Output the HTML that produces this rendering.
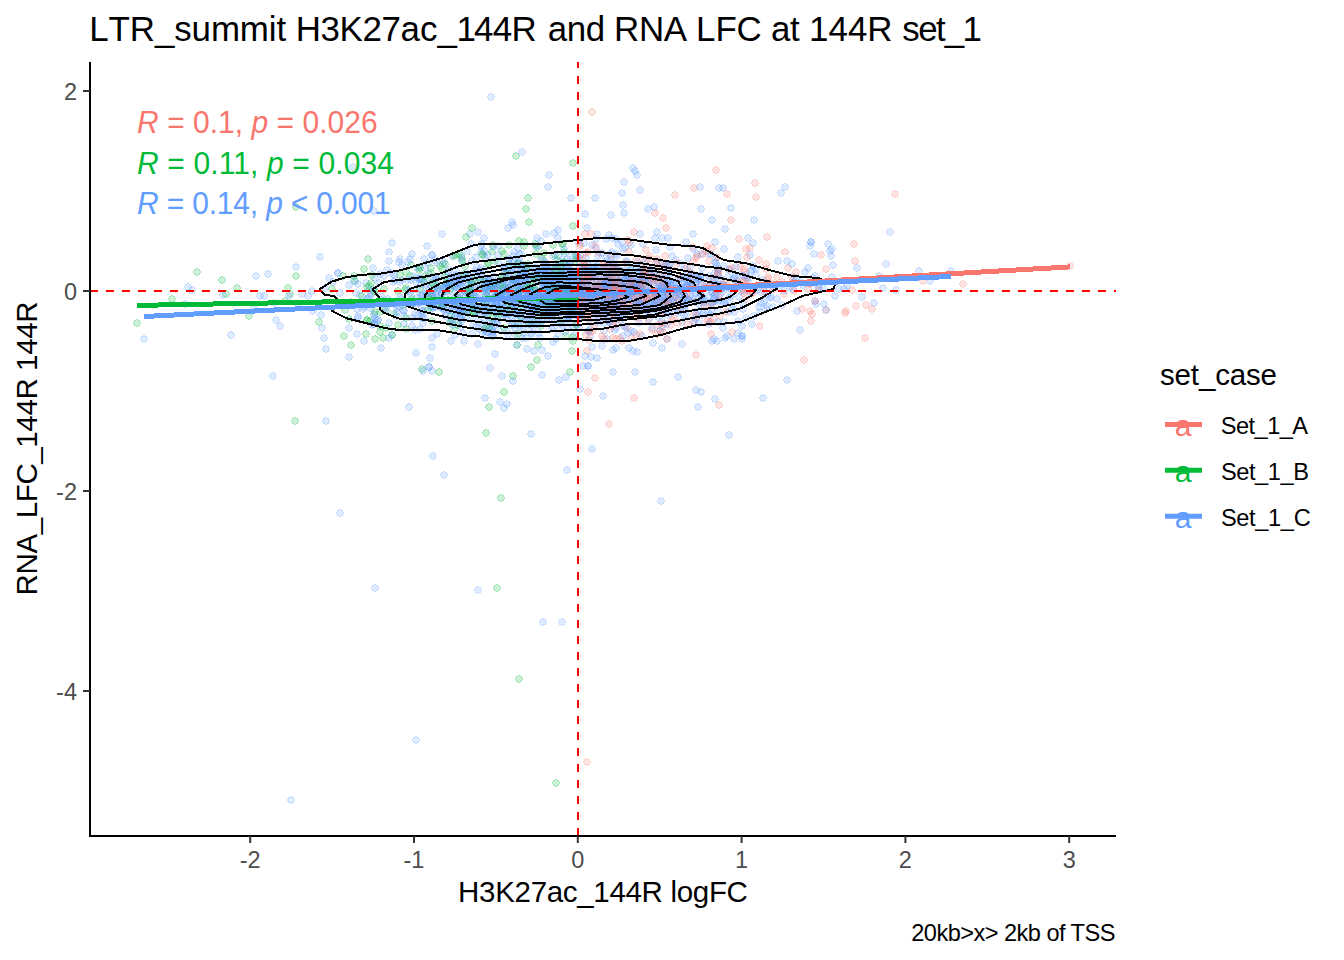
<!DOCTYPE html>
<html><head><meta charset="utf-8"><style>
html,body{margin:0;padding:0;background:#fff;}
svg{display:block;font-family:"Liberation Sans",Arial,sans-serif;}
</style></head><body>
<svg width="1344" height="960" viewBox="0 0 1344 960">
<rect width="1344" height="960" fill="#fff"/>
<text x="89.2 108.6 129.8 154.9 174.2 191.5 210.9 239.8 268.7 276.4 286.1 295.7 320.5 339.5 362.4 381.5 400.5 420.0 437.5 456.6 474.0 492.8 511.6 537.8 547.8 566.8 585.7 604.7 614.1 638.9 663.7 686.6 696.1 715.4 736.5 761.5 771.1 790.1 799.6 809.0 828.5 847.9 867.3 892.5 902.2 918.2 935.9 944.8 962.5" y="41" font-size="34.9">LTR_summit H3K27ac_144R and RNA LFC at 144R set_1</text>
<defs><clipPath id="pc"><rect x="90" y="62" width="1026" height="774"/></clipPath></defs>
<g clip-path="url(#pc)">
<defs><g id="r"><circle r="3.6" fill="#F8766D" fill-opacity="0.2"/><circle r="3.1" fill="none" stroke="#F8766D" stroke-opacity="0.2" stroke-width="1"/></g><g id="g"><circle r="3.6" fill="#00BA38" fill-opacity="0.2"/><circle r="3.1" fill="none" stroke="#00BA38" stroke-opacity="0.2" stroke-width="1"/></g><g id="b"><circle r="3.6" fill="#619CFF" fill-opacity="0.2"/><circle r="3.1" fill="none" stroke="#619CFF" stroke-opacity="0.2" stroke-width="1"/></g></defs>
<g shape-rendering="crispEdges">
<use href="#g" x="386" y="328"/>
<use href="#r" x="597" y="309"/>
<use href="#r" x="588" y="392"/>
<use href="#b" x="515" y="313"/>
<use href="#r" x="582" y="299"/>
<use href="#b" x="542" y="294"/>
<use href="#b" x="568" y="272"/>
<use href="#b" x="874" y="303"/>
<use href="#b" x="489" y="322"/>
<use href="#b" x="404" y="311"/>
<use href="#b" x="485" y="280"/>
<use href="#r" x="614" y="303"/>
<use href="#b" x="419" y="267"/>
<use href="#b" x="658" y="317"/>
<use href="#r" x="662" y="288"/>
<use href="#b" x="599" y="307"/>
<use href="#b" x="582" y="286"/>
<use href="#b" x="291" y="800"/>
<use href="#r" x="715" y="290"/>
<use href="#b" x="578" y="314"/>
<use href="#b" x="432" y="338"/>
<use href="#b" x="454" y="305"/>
<use href="#b" x="805" y="272"/>
<use href="#b" x="495" y="296"/>
<use href="#g" x="497" y="588"/>
<use href="#b" x="556" y="282"/>
<use href="#b" x="742" y="336"/>
<use href="#r" x="640" y="291"/>
<use href="#b" x="587" y="306"/>
<use href="#b" x="325" y="288"/>
<use href="#b" x="497" y="296"/>
<use href="#b" x="810" y="284"/>
<use href="#r" x="596" y="291"/>
<use href="#b" x="562" y="295"/>
<use href="#b" x="646" y="303"/>
<use href="#b" x="381" y="348"/>
<use href="#r" x="688" y="300"/>
<use href="#r" x="594" y="281"/>
<use href="#b" x="498" y="294"/>
<use href="#r" x="629" y="243"/>
<use href="#b" x="673" y="298"/>
<use href="#b" x="523" y="290"/>
<use href="#b" x="420" y="329"/>
<use href="#b" x="420" y="278"/>
<use href="#g" x="517" y="345"/>
<use href="#g" x="474" y="302"/>
<use href="#b" x="501" y="304"/>
<use href="#b" x="540" y="296"/>
<use href="#g" x="574" y="309"/>
<use href="#r" x="659" y="267"/>
<use href="#b" x="455" y="335"/>
<use href="#g" x="524" y="242"/>
<use href="#b" x="527" y="320"/>
<use href="#b" x="598" y="268"/>
<use href="#g" x="403" y="305"/>
<use href="#b" x="404" y="316"/>
<use href="#b" x="696" y="284"/>
<use href="#b" x="683" y="305"/>
<use href="#b" x="604" y="286"/>
<use href="#b" x="517" y="311"/>
<use href="#b" x="523" y="265"/>
<use href="#b" x="690" y="286"/>
<use href="#b" x="577" y="301"/>
<use href="#b" x="572" y="288"/>
<use href="#b" x="562" y="301"/>
<use href="#b" x="616" y="328"/>
<use href="#b" x="418" y="315"/>
<use href="#b" x="485" y="398"/>
<use href="#b" x="667" y="285"/>
<use href="#b" x="484" y="308"/>
<use href="#r" x="591" y="234"/>
<use href="#b" x="546" y="264"/>
<use href="#b" x="592" y="347"/>
<use href="#b" x="556" y="339"/>
<use href="#b" x="527" y="349"/>
<use href="#b" x="442" y="294"/>
<use href="#b" x="724" y="249"/>
<use href="#b" x="794" y="277"/>
<use href="#b" x="702" y="315"/>
<use href="#b" x="443" y="301"/>
<use href="#g" x="295" y="421"/>
<use href="#b" x="699" y="323"/>
<use href="#b" x="620" y="298"/>
<use href="#b" x="475" y="312"/>
<use href="#b" x="598" y="296"/>
<use href="#b" x="491" y="287"/>
<use href="#b" x="523" y="311"/>
<use href="#b" x="461" y="279"/>
<use href="#b" x="640" y="306"/>
<use href="#b" x="636" y="266"/>
<use href="#g" x="545" y="277"/>
<use href="#b" x="568" y="305"/>
<use href="#b" x="433" y="308"/>
<use href="#b" x="540" y="292"/>
<use href="#b" x="646" y="306"/>
<use href="#b" x="756" y="269"/>
<use href="#b" x="478" y="344"/>
<use href="#b" x="495" y="302"/>
<use href="#g" x="495" y="261"/>
<use href="#b" x="552" y="294"/>
<use href="#b" x="424" y="259"/>
<use href="#r" x="648" y="299"/>
<use href="#r" x="794" y="291"/>
<use href="#b" x="493" y="276"/>
<use href="#b" x="456" y="275"/>
<use href="#g" x="555" y="255"/>
<use href="#b" x="443" y="304"/>
<use href="#r" x="601" y="294"/>
<use href="#b" x="951" y="271"/>
<use href="#b" x="566" y="264"/>
<use href="#b" x="568" y="295"/>
<use href="#b" x="527" y="284"/>
<use href="#b" x="617" y="270"/>
<use href="#r" x="642" y="267"/>
<use href="#b" x="584" y="265"/>
<use href="#b" x="493" y="323"/>
<use href="#b" x="616" y="300"/>
<use href="#b" x="373" y="324"/>
<use href="#r" x="581" y="318"/>
<use href="#b" x="574" y="306"/>
<use href="#r" x="580" y="246"/>
<use href="#b" x="444" y="310"/>
<use href="#r" x="629" y="277"/>
<use href="#b" x="561" y="306"/>
<use href="#b" x="484" y="238"/>
<use href="#b" x="610" y="294"/>
<use href="#b" x="488" y="255"/>
<use href="#b" x="608" y="302"/>
<use href="#g" x="572" y="274"/>
<use href="#b" x="633" y="168"/>
<use href="#b" x="664" y="292"/>
<use href="#b" x="601" y="290"/>
<use href="#b" x="423" y="311"/>
<use href="#r" x="653" y="280"/>
<use href="#b" x="568" y="290"/>
<use href="#b" x="623" y="292"/>
<use href="#r" x="663" y="218"/>
<use href="#b" x="256" y="276"/>
<use href="#g" x="422" y="369"/>
<use href="#b" x="613" y="288"/>
<use href="#g" x="512" y="309"/>
<use href="#b" x="381" y="296"/>
<use href="#r" x="729" y="269"/>
<use href="#b" x="560" y="289"/>
<use href="#r" x="647" y="266"/>
<use href="#b" x="554" y="328"/>
<use href="#b" x="629" y="296"/>
<use href="#g" x="450" y="323"/>
<use href="#b" x="349" y="285"/>
<use href="#g" x="525" y="277"/>
<use href="#b" x="544" y="288"/>
<use href="#g" x="570" y="311"/>
<use href="#b" x="536" y="281"/>
<use href="#g" x="574" y="306"/>
<use href="#b" x="518" y="248"/>
<use href="#b" x="818" y="287"/>
<use href="#b" x="539" y="306"/>
<use href="#b" x="674" y="283"/>
<use href="#b" x="705" y="301"/>
<use href="#b" x="575" y="298"/>
<use href="#b" x="591" y="277"/>
<use href="#b" x="597" y="234"/>
<use href="#b" x="519" y="254"/>
<use href="#b" x="424" y="318"/>
<use href="#b" x="595" y="267"/>
<use href="#b" x="729" y="435"/>
<use href="#r" x="696" y="258"/>
<use href="#b" x="544" y="280"/>
<use href="#b" x="568" y="295"/>
<use href="#b" x="604" y="331"/>
<use href="#b" x="517" y="294"/>
<use href="#g" x="249" y="316"/>
<use href="#r" x="615" y="273"/>
<use href="#r" x="845" y="313"/>
<use href="#b" x="579" y="278"/>
<use href="#r" x="701" y="284"/>
<use href="#b" x="595" y="293"/>
<use href="#g" x="547" y="282"/>
<use href="#b" x="700" y="276"/>
<use href="#b" x="559" y="304"/>
<use href="#b" x="646" y="293"/>
<use href="#g" x="380" y="332"/>
<use href="#b" x="446" y="284"/>
<use href="#r" x="598" y="312"/>
<use href="#b" x="392" y="243"/>
<use href="#b" x="647" y="298"/>
<use href="#r" x="683" y="292"/>
<use href="#b" x="606" y="285"/>
<use href="#b" x="580" y="255"/>
<use href="#b" x="513" y="283"/>
<use href="#b" x="635" y="286"/>
<use href="#b" x="713" y="302"/>
<use href="#b" x="609" y="287"/>
<use href="#b" x="896" y="290"/>
<use href="#g" x="509" y="245"/>
<use href="#b" x="811" y="242"/>
<use href="#b" x="575" y="312"/>
<use href="#b" x="598" y="289"/>
<use href="#b" x="553" y="268"/>
<use href="#r" x="594" y="297"/>
<use href="#b" x="665" y="304"/>
<use href="#b" x="547" y="307"/>
<use href="#b" x="713" y="281"/>
<use href="#r" x="666" y="264"/>
<use href="#b" x="582" y="275"/>
<use href="#b" x="400" y="259"/>
<use href="#b" x="739" y="287"/>
<use href="#r" x="605" y="312"/>
<use href="#b" x="712" y="220"/>
<use href="#b" x="619" y="304"/>
<use href="#b" x="485" y="299"/>
<use href="#b" x="648" y="269"/>
<use href="#g" x="472" y="307"/>
<use href="#r" x="640" y="292"/>
<use href="#b" x="569" y="293"/>
<use href="#b" x="421" y="279"/>
<use href="#b" x="590" y="301"/>
<use href="#b" x="504" y="288"/>
<use href="#g" x="486" y="433"/>
<use href="#b" x="652" y="281"/>
<use href="#b" x="729" y="288"/>
<use href="#b" x="580" y="294"/>
<use href="#b" x="416" y="740"/>
<use href="#b" x="610" y="314"/>
<use href="#g" x="344" y="336"/>
<use href="#b" x="793" y="289"/>
<use href="#b" x="504" y="310"/>
<use href="#g" x="529" y="222"/>
<use href="#b" x="615" y="301"/>
<use href="#b" x="576" y="304"/>
<use href="#r" x="732" y="268"/>
<use href="#b" x="437" y="280"/>
<use href="#b" x="400" y="297"/>
<use href="#b" x="466" y="312"/>
<use href="#b" x="516" y="288"/>
<use href="#b" x="370" y="297"/>
<use href="#b" x="671" y="285"/>
<use href="#b" x="415" y="314"/>
<use href="#b" x="626" y="309"/>
<use href="#r" x="826" y="269"/>
<use href="#b" x="544" y="271"/>
<use href="#b" x="621" y="282"/>
<use href="#b" x="472" y="280"/>
<use href="#r" x="643" y="259"/>
<use href="#b" x="606" y="239"/>
<use href="#r" x="721" y="289"/>
<use href="#b" x="531" y="291"/>
<use href="#b" x="718" y="288"/>
<use href="#b" x="630" y="293"/>
<use href="#b" x="451" y="303"/>
<use href="#r" x="694" y="188"/>
<use href="#b" x="513" y="284"/>
<use href="#b" x="718" y="311"/>
<use href="#b" x="438" y="290"/>
<use href="#b" x="496" y="304"/>
<use href="#b" x="828" y="244"/>
<use href="#b" x="676" y="289"/>
<use href="#r" x="768" y="277"/>
<use href="#b" x="692" y="286"/>
<use href="#b" x="553" y="291"/>
<use href="#r" x="632" y="294"/>
<use href="#r" x="662" y="323"/>
<use href="#b" x="616" y="306"/>
<use href="#b" x="634" y="299"/>
<use href="#b" x="681" y="264"/>
<use href="#r" x="732" y="332"/>
<use href="#g" x="432" y="291"/>
<use href="#b" x="657" y="290"/>
<use href="#b" x="502" y="315"/>
<use href="#b" x="573" y="306"/>
<use href="#g" x="492" y="252"/>
<use href="#b" x="731" y="208"/>
<use href="#b" x="811" y="242"/>
<use href="#b" x="671" y="285"/>
<use href="#b" x="620" y="314"/>
<use href="#b" x="467" y="252"/>
<use href="#b" x="647" y="305"/>
<use href="#b" x="609" y="312"/>
<use href="#b" x="639" y="298"/>
<use href="#b" x="324" y="338"/>
<use href="#r" x="715" y="286"/>
<use href="#b" x="442" y="293"/>
<use href="#r" x="766" y="269"/>
<use href="#b" x="599" y="305"/>
<use href="#b" x="617" y="270"/>
<use href="#b" x="815" y="276"/>
<use href="#b" x="492" y="324"/>
<use href="#b" x="572" y="278"/>
<use href="#g" x="370" y="321"/>
<use href="#b" x="586" y="270"/>
<use href="#b" x="682" y="278"/>
<use href="#b" x="752" y="270"/>
<use href="#b" x="555" y="274"/>
<use href="#g" x="518" y="275"/>
<use href="#r" x="767" y="237"/>
<use href="#g" x="457" y="304"/>
<use href="#b" x="580" y="389"/>
<use href="#b" x="231" y="335"/>
<use href="#r" x="680" y="278"/>
<use href="#b" x="563" y="297"/>
<use href="#b" x="576" y="254"/>
<use href="#b" x="639" y="302"/>
<use href="#g" x="458" y="304"/>
<use href="#b" x="590" y="278"/>
<use href="#b" x="622" y="285"/>
<use href="#b" x="678" y="311"/>
<use href="#b" x="687" y="285"/>
<use href="#b" x="474" y="305"/>
<use href="#b" x="473" y="284"/>
<use href="#g" x="405" y="290"/>
<use href="#b" x="456" y="287"/>
<use href="#b" x="616" y="254"/>
<use href="#b" x="611" y="310"/>
<use href="#b" x="509" y="314"/>
<use href="#g" x="571" y="308"/>
<use href="#r" x="582" y="316"/>
<use href="#b" x="604" y="290"/>
<use href="#r" x="625" y="294"/>
<use href="#r" x="602" y="336"/>
<use href="#b" x="606" y="279"/>
<use href="#g" x="484" y="329"/>
<use href="#b" x="563" y="278"/>
<use href="#b" x="669" y="274"/>
<use href="#r" x="672" y="269"/>
<use href="#g" x="570" y="372"/>
<use href="#b" x="560" y="277"/>
<use href="#b" x="502" y="285"/>
<use href="#r" x="664" y="285"/>
<use href="#b" x="647" y="308"/>
<use href="#b" x="589" y="331"/>
<use href="#r" x="739" y="239"/>
<use href="#b" x="654" y="295"/>
<use href="#b" x="610" y="308"/>
<use href="#b" x="457" y="295"/>
<use href="#b" x="611" y="282"/>
<use href="#r" x="587" y="351"/>
<use href="#g" x="562" y="244"/>
<use href="#b" x="483" y="305"/>
<use href="#b" x="761" y="303"/>
<use href="#b" x="780" y="285"/>
<use href="#b" x="567" y="470"/>
<use href="#b" x="536" y="277"/>
<use href="#b" x="349" y="328"/>
<use href="#b" x="609" y="275"/>
<use href="#b" x="612" y="281"/>
<use href="#b" x="486" y="314"/>
<use href="#b" x="476" y="327"/>
<use href="#b" x="528" y="290"/>
<use href="#b" x="473" y="318"/>
<use href="#g" x="543" y="278"/>
<use href="#b" x="558" y="306"/>
<use href="#b" x="633" y="351"/>
<use href="#b" x="515" y="310"/>
<use href="#b" x="664" y="296"/>
<use href="#r" x="854" y="244"/>
<use href="#r" x="727" y="194"/>
<use href="#b" x="639" y="305"/>
<use href="#b" x="535" y="274"/>
<use href="#b" x="717" y="341"/>
<use href="#b" x="572" y="289"/>
<use href="#g" x="575" y="294"/>
<use href="#r" x="694" y="322"/>
<use href="#b" x="511" y="270"/>
<use href="#b" x="648" y="209"/>
<use href="#b" x="584" y="268"/>
<use href="#b" x="764" y="286"/>
<use href="#r" x="633" y="285"/>
<use href="#b" x="423" y="371"/>
<use href="#r" x="745" y="299"/>
<use href="#b" x="562" y="326"/>
<use href="#r" x="595" y="378"/>
<use href="#r" x="796" y="272"/>
<use href="#r" x="594" y="297"/>
<use href="#b" x="572" y="304"/>
<use href="#g" x="424" y="301"/>
<use href="#b" x="500" y="402"/>
<use href="#b" x="393" y="282"/>
<use href="#b" x="468" y="274"/>
<use href="#b" x="564" y="263"/>
<use href="#b" x="661" y="501"/>
<use href="#b" x="591" y="287"/>
<use href="#b" x="558" y="311"/>
<use href="#b" x="636" y="313"/>
<use href="#b" x="409" y="407"/>
<use href="#r" x="611" y="271"/>
<use href="#b" x="668" y="280"/>
<use href="#b" x="469" y="294"/>
<use href="#b" x="642" y="284"/>
<use href="#b" x="590" y="329"/>
<use href="#b" x="748" y="281"/>
<use href="#b" x="600" y="302"/>
<use href="#b" x="410" y="292"/>
<use href="#b" x="503" y="290"/>
<use href="#b" x="582" y="278"/>
<use href="#b" x="491" y="328"/>
<use href="#b" x="601" y="289"/>
<use href="#r" x="771" y="285"/>
<use href="#g" x="458" y="298"/>
<use href="#g" x="380" y="312"/>
<use href="#b" x="526" y="291"/>
<use href="#r" x="580" y="278"/>
<use href="#b" x="528" y="268"/>
<use href="#b" x="613" y="270"/>
<use href="#b" x="609" y="317"/>
<use href="#r" x="594" y="292"/>
<use href="#b" x="574" y="335"/>
<use href="#b" x="558" y="256"/>
<use href="#b" x="464" y="298"/>
<use href="#g" x="486" y="327"/>
<use href="#r" x="602" y="278"/>
<use href="#b" x="734" y="339"/>
<use href="#b" x="434" y="289"/>
<use href="#b" x="482" y="306"/>
<use href="#r" x="821" y="255"/>
<use href="#b" x="616" y="299"/>
<use href="#b" x="553" y="287"/>
<use href="#b" x="640" y="283"/>
<use href="#b" x="862" y="297"/>
<use href="#b" x="452" y="311"/>
<use href="#g" x="572" y="289"/>
<use href="#b" x="767" y="306"/>
<use href="#g" x="535" y="316"/>
<use href="#b" x="690" y="299"/>
<use href="#b" x="523" y="273"/>
<use href="#b" x="223" y="295"/>
<use href="#b" x="588" y="273"/>
<use href="#b" x="559" y="287"/>
<use href="#b" x="579" y="282"/>
<use href="#r" x="631" y="338"/>
<use href="#b" x="668" y="286"/>
<use href="#b" x="654" y="207"/>
<use href="#b" x="503" y="295"/>
<use href="#b" x="539" y="333"/>
<use href="#b" x="746" y="318"/>
<use href="#b" x="823" y="288"/>
<use href="#g" x="494" y="288"/>
<use href="#b" x="649" y="289"/>
<use href="#b" x="422" y="295"/>
<use href="#b" x="576" y="271"/>
<use href="#b" x="642" y="278"/>
<use href="#b" x="615" y="307"/>
<use href="#b" x="670" y="290"/>
<use href="#b" x="724" y="322"/>
<use href="#b" x="481" y="246"/>
<use href="#b" x="513" y="256"/>
<use href="#b" x="743" y="303"/>
<use href="#b" x="692" y="277"/>
<use href="#b" x="422" y="315"/>
<use href="#g" x="554" y="313"/>
<use href="#b" x="356" y="293"/>
<use href="#b" x="525" y="280"/>
<use href="#r" x="581" y="283"/>
<use href="#r" x="578" y="294"/>
<use href="#b" x="473" y="325"/>
<use href="#b" x="641" y="294"/>
<use href="#b" x="624" y="182"/>
<use href="#b" x="740" y="287"/>
<use href="#b" x="504" y="314"/>
<use href="#r" x="615" y="290"/>
<use href="#b" x="638" y="306"/>
<use href="#b" x="545" y="285"/>
<use href="#b" x="535" y="302"/>
<use href="#b" x="613" y="284"/>
<use href="#b" x="482" y="332"/>
<use href="#b" x="604" y="323"/>
<use href="#b" x="489" y="290"/>
<use href="#b" x="544" y="290"/>
<use href="#r" x="808" y="283"/>
<use href="#r" x="755" y="183"/>
<use href="#b" x="442" y="307"/>
<use href="#b" x="570" y="261"/>
<use href="#g" x="498" y="316"/>
<use href="#b" x="475" y="308"/>
<use href="#b" x="518" y="279"/>
<use href="#b" x="610" y="280"/>
<use href="#b" x="461" y="284"/>
<use href="#b" x="567" y="294"/>
<use href="#g" x="531" y="367"/>
<use href="#b" x="886" y="264"/>
<use href="#g" x="538" y="345"/>
<use href="#r" x="621" y="271"/>
<use href="#g" x="454" y="256"/>
<use href="#b" x="570" y="305"/>
<use href="#b" x="616" y="277"/>
<use href="#r" x="603" y="307"/>
<use href="#b" x="727" y="336"/>
<use href="#r" x="603" y="281"/>
<use href="#b" x="554" y="281"/>
<use href="#b" x="539" y="272"/>
<use href="#g" x="469" y="290"/>
<use href="#b" x="630" y="309"/>
<use href="#b" x="658" y="283"/>
<use href="#g" x="534" y="290"/>
<use href="#b" x="533" y="306"/>
<use href="#b" x="568" y="291"/>
<use href="#b" x="629" y="310"/>
<use href="#r" x="617" y="296"/>
<use href="#b" x="472" y="334"/>
<use href="#b" x="603" y="396"/>
<use href="#b" x="490" y="368"/>
<use href="#b" x="635" y="303"/>
<use href="#b" x="510" y="294"/>
<use href="#g" x="575" y="261"/>
<use href="#b" x="531" y="434"/>
<use href="#b" x="565" y="319"/>
<use href="#r" x="628" y="304"/>
<use href="#g" x="576" y="304"/>
<use href="#b" x="631" y="286"/>
<use href="#b" x="468" y="276"/>
<use href="#r" x="644" y="273"/>
<use href="#b" x="664" y="279"/>
<use href="#b" x="583" y="293"/>
<use href="#r" x="635" y="299"/>
<use href="#b" x="568" y="292"/>
<use href="#b" x="703" y="313"/>
<use href="#b" x="590" y="308"/>
<use href="#b" x="478" y="232"/>
<use href="#b" x="667" y="275"/>
<use href="#b" x="518" y="264"/>
<use href="#g" x="534" y="323"/>
<use href="#b" x="448" y="310"/>
<use href="#r" x="631" y="291"/>
<use href="#b" x="462" y="308"/>
<use href="#b" x="742" y="339"/>
<use href="#b" x="546" y="275"/>
<use href="#b" x="465" y="311"/>
<use href="#b" x="584" y="305"/>
<use href="#b" x="431" y="296"/>
<use href="#b" x="609" y="322"/>
<use href="#g" x="288" y="288"/>
<use href="#b" x="571" y="292"/>
<use href="#b" x="433" y="297"/>
<use href="#b" x="763" y="398"/>
<use href="#b" x="554" y="286"/>
<use href="#b" x="730" y="296"/>
<use href="#b" x="484" y="270"/>
<use href="#r" x="649" y="273"/>
<use href="#b" x="600" y="290"/>
<use href="#b" x="726" y="289"/>
<use href="#b" x="565" y="290"/>
<use href="#b" x="542" y="304"/>
<use href="#b" x="568" y="290"/>
<use href="#g" x="401" y="302"/>
<use href="#b" x="443" y="308"/>
<use href="#b" x="716" y="285"/>
<use href="#b" x="419" y="302"/>
<use href="#b" x="574" y="273"/>
<use href="#r" x="643" y="270"/>
<use href="#b" x="578" y="299"/>
<use href="#b" x="338" y="273"/>
<use href="#b" x="611" y="297"/>
<use href="#r" x="895" y="194"/>
<use href="#b" x="481" y="268"/>
<use href="#b" x="719" y="188"/>
<use href="#b" x="326" y="421"/>
<use href="#b" x="595" y="300"/>
<use href="#b" x="448" y="272"/>
<use href="#b" x="437" y="297"/>
<use href="#g" x="541" y="326"/>
<use href="#b" x="542" y="284"/>
<use href="#b" x="592" y="245"/>
<use href="#b" x="609" y="321"/>
<use href="#r" x="664" y="281"/>
<use href="#r" x="616" y="279"/>
<use href="#b" x="604" y="274"/>
<use href="#b" x="546" y="289"/>
<use href="#g" x="528" y="198"/>
<use href="#b" x="623" y="317"/>
<use href="#b" x="491" y="311"/>
<use href="#r" x="608" y="289"/>
<use href="#b" x="611" y="285"/>
<use href="#r" x="748" y="291"/>
<use href="#r" x="597" y="302"/>
<use href="#b" x="614" y="288"/>
<use href="#b" x="647" y="259"/>
<use href="#r" x="610" y="307"/>
<use href="#b" x="800" y="282"/>
<use href="#b" x="500" y="308"/>
<use href="#b" x="449" y="286"/>
<use href="#r" x="750" y="248"/>
<use href="#b" x="741" y="291"/>
<use href="#b" x="498" y="307"/>
<use href="#r" x="609" y="274"/>
<use href="#b" x="470" y="234"/>
<use href="#b" x="522" y="293"/>
<use href="#b" x="578" y="242"/>
<use href="#b" x="493" y="327"/>
<use href="#r" x="596" y="293"/>
<use href="#b" x="558" y="301"/>
<use href="#b" x="751" y="293"/>
<use href="#b" x="569" y="278"/>
<use href="#r" x="1070" y="266"/>
<use href="#b" x="528" y="325"/>
<use href="#g" x="504" y="328"/>
<use href="#r" x="616" y="339"/>
<use href="#b" x="635" y="286"/>
<use href="#b" x="743" y="309"/>
<use href="#b" x="714" y="299"/>
<use href="#r" x="802" y="309"/>
<use href="#r" x="722" y="286"/>
<use href="#r" x="587" y="287"/>
<use href="#r" x="593" y="307"/>
<use href="#b" x="550" y="279"/>
<use href="#b" x="640" y="289"/>
<use href="#r" x="766" y="264"/>
<use href="#b" x="680" y="293"/>
<use href="#b" x="497" y="295"/>
<use href="#b" x="530" y="290"/>
<use href="#b" x="591" y="357"/>
<use href="#b" x="254" y="308"/>
<use href="#b" x="605" y="269"/>
<use href="#g" x="573" y="163"/>
<use href="#b" x="595" y="198"/>
<use href="#b" x="473" y="293"/>
<use href="#b" x="667" y="339"/>
<use href="#b" x="489" y="280"/>
<use href="#b" x="374" y="324"/>
<use href="#r" x="622" y="300"/>
<use href="#b" x="497" y="323"/>
<use href="#b" x="710" y="315"/>
<use href="#r" x="579" y="258"/>
<use href="#b" x="485" y="284"/>
<use href="#r" x="653" y="298"/>
<use href="#b" x="733" y="279"/>
<use href="#b" x="539" y="273"/>
<use href="#b" x="508" y="310"/>
<use href="#b" x="672" y="256"/>
<use href="#b" x="708" y="312"/>
<use href="#b" x="532" y="334"/>
<use href="#b" x="476" y="257"/>
<use href="#b" x="551" y="278"/>
<use href="#b" x="437" y="334"/>
<use href="#b" x="644" y="293"/>
<use href="#b" x="522" y="267"/>
<use href="#b" x="438" y="300"/>
<use href="#b" x="552" y="329"/>
<use href="#g" x="536" y="254"/>
<use href="#b" x="503" y="281"/>
<use href="#b" x="643" y="292"/>
<use href="#g" x="420" y="289"/>
<use href="#b" x="596" y="248"/>
<use href="#b" x="643" y="294"/>
<use href="#r" x="652" y="330"/>
<use href="#r" x="640" y="334"/>
<use href="#b" x="654" y="272"/>
<use href="#b" x="553" y="312"/>
<use href="#b" x="570" y="263"/>
<use href="#b" x="340" y="293"/>
<use href="#b" x="463" y="301"/>
<use href="#b" x="515" y="294"/>
<use href="#g" x="429" y="294"/>
<use href="#b" x="714" y="298"/>
<use href="#b" x="549" y="284"/>
<use href="#b" x="683" y="291"/>
<use href="#b" x="413" y="276"/>
<use href="#b" x="497" y="323"/>
<use href="#b" x="185" y="304"/>
<use href="#g" x="380" y="326"/>
<use href="#r" x="647" y="297"/>
<use href="#g" x="557" y="278"/>
<use href="#b" x="819" y="281"/>
<use href="#b" x="441" y="308"/>
<use href="#g" x="374" y="292"/>
<use href="#b" x="461" y="279"/>
<use href="#b" x="605" y="289"/>
<use href="#b" x="706" y="288"/>
<use href="#b" x="634" y="276"/>
<use href="#b" x="545" y="287"/>
<use href="#b" x="556" y="293"/>
<use href="#b" x="457" y="278"/>
<use href="#r" x="711" y="322"/>
<use href="#b" x="711" y="302"/>
<use href="#b" x="458" y="323"/>
<use href="#b" x="566" y="309"/>
<use href="#b" x="489" y="298"/>
<use href="#r" x="602" y="282"/>
<use href="#b" x="711" y="254"/>
<use href="#r" x="662" y="275"/>
<use href="#g" x="556" y="783"/>
<use href="#b" x="740" y="275"/>
<use href="#b" x="432" y="371"/>
<use href="#g" x="285" y="301"/>
<use href="#b" x="668" y="295"/>
<use href="#b" x="519" y="314"/>
<use href="#b" x="388" y="299"/>
<use href="#b" x="546" y="234"/>
<use href="#b" x="573" y="327"/>
<use href="#b" x="529" y="290"/>
<use href="#b" x="544" y="271"/>
<use href="#b" x="632" y="309"/>
<use href="#b" x="404" y="324"/>
<use href="#r" x="635" y="317"/>
<use href="#b" x="626" y="280"/>
<use href="#b" x="471" y="286"/>
<use href="#b" x="478" y="590"/>
<use href="#b" x="494" y="292"/>
<use href="#b" x="671" y="294"/>
<use href="#b" x="588" y="295"/>
<use href="#b" x="556" y="264"/>
<use href="#r" x="714" y="318"/>
<use href="#b" x="676" y="260"/>
<use href="#r" x="613" y="319"/>
<use href="#b" x="718" y="276"/>
<use href="#b" x="519" y="262"/>
<use href="#b" x="534" y="276"/>
<use href="#r" x="620" y="296"/>
<use href="#b" x="584" y="290"/>
<use href="#g" x="561" y="302"/>
<use href="#b" x="613" y="266"/>
<use href="#b" x="506" y="316"/>
<use href="#b" x="421" y="296"/>
<use href="#r" x="716" y="170"/>
<use href="#g" x="411" y="265"/>
<use href="#b" x="596" y="310"/>
<use href="#b" x="668" y="300"/>
<use href="#r" x="592" y="112"/>
<use href="#b" x="680" y="310"/>
<use href="#b" x="551" y="277"/>
<use href="#b" x="528" y="308"/>
<use href="#r" x="712" y="278"/>
<use href="#b" x="688" y="273"/>
<use href="#r" x="613" y="269"/>
<use href="#b" x="524" y="272"/>
<use href="#b" x="624" y="304"/>
<use href="#b" x="535" y="313"/>
<use href="#r" x="708" y="286"/>
<use href="#r" x="602" y="288"/>
<use href="#b" x="495" y="284"/>
<use href="#b" x="429" y="367"/>
<use href="#b" x="720" y="295"/>
<use href="#b" x="532" y="276"/>
<use href="#b" x="611" y="308"/>
<use href="#r" x="620" y="289"/>
<use href="#g" x="546" y="290"/>
<use href="#b" x="734" y="278"/>
<use href="#r" x="718" y="285"/>
<use href="#b" x="525" y="267"/>
<use href="#b" x="508" y="320"/>
<use href="#b" x="586" y="300"/>
<use href="#r" x="611" y="256"/>
<use href="#b" x="567" y="307"/>
<use href="#b" x="352" y="304"/>
<use href="#b" x="663" y="286"/>
<use href="#b" x="544" y="314"/>
<use href="#b" x="358" y="316"/>
<use href="#b" x="631" y="280"/>
<use href="#g" x="532" y="276"/>
<use href="#b" x="430" y="310"/>
<use href="#r" x="679" y="300"/>
<use href="#b" x="432" y="294"/>
<use href="#b" x="738" y="321"/>
<use href="#b" x="537" y="307"/>
<use href="#b" x="718" y="322"/>
<use href="#b" x="614" y="322"/>
<use href="#b" x="797" y="311"/>
<use href="#g" x="355" y="281"/>
<use href="#b" x="537" y="295"/>
<use href="#b" x="532" y="325"/>
<use href="#b" x="631" y="331"/>
<use href="#b" x="513" y="324"/>
<use href="#r" x="594" y="326"/>
<use href="#b" x="550" y="290"/>
<use href="#b" x="660" y="300"/>
<use href="#r" x="613" y="279"/>
<use href="#r" x="648" y="276"/>
<use href="#b" x="600" y="290"/>
<use href="#r" x="747" y="278"/>
<use href="#b" x="540" y="338"/>
<use href="#r" x="759" y="260"/>
<use href="#b" x="640" y="190"/>
<use href="#b" x="636" y="283"/>
<use href="#b" x="602" y="346"/>
<use href="#b" x="631" y="245"/>
<use href="#r" x="642" y="300"/>
<use href="#b" x="835" y="296"/>
<use href="#b" x="639" y="323"/>
<use href="#r" x="674" y="319"/>
<use href="#b" x="662" y="327"/>
<use href="#b" x="605" y="305"/>
<use href="#b" x="541" y="304"/>
<use href="#g" x="544" y="253"/>
<use href="#b" x="450" y="284"/>
<use href="#b" x="677" y="292"/>
<use href="#b" x="548" y="356"/>
<use href="#r" x="718" y="270"/>
<use href="#b" x="534" y="278"/>
<use href="#b" x="417" y="290"/>
<use href="#r" x="609" y="289"/>
<use href="#b" x="502" y="376"/>
<use href="#b" x="507" y="290"/>
<use href="#r" x="654" y="277"/>
<use href="#b" x="662" y="301"/>
<use href="#g" x="518" y="324"/>
<use href="#b" x="704" y="306"/>
<use href="#r" x="709" y="261"/>
<use href="#b" x="736" y="288"/>
<use href="#r" x="855" y="261"/>
<use href="#b" x="437" y="286"/>
<use href="#b" x="645" y="274"/>
<use href="#b" x="714" y="281"/>
<use href="#b" x="497" y="286"/>
<use href="#b" x="621" y="308"/>
<use href="#g" x="319" y="322"/>
<use href="#b" x="919" y="271"/>
<use href="#b" x="556" y="295"/>
<use href="#b" x="455" y="288"/>
<use href="#b" x="557" y="311"/>
<use href="#g" x="568" y="286"/>
<use href="#b" x="627" y="299"/>
<use href="#b" x="510" y="296"/>
<use href="#b" x="604" y="318"/>
<use href="#g" x="576" y="290"/>
<use href="#b" x="649" y="282"/>
<use href="#g" x="498" y="313"/>
<use href="#b" x="456" y="271"/>
<use href="#b" x="373" y="289"/>
<use href="#b" x="709" y="276"/>
<use href="#b" x="505" y="272"/>
<use href="#b" x="628" y="294"/>
<use href="#b" x="590" y="337"/>
<use href="#b" x="557" y="292"/>
<use href="#b" x="512" y="299"/>
<use href="#b" x="465" y="302"/>
<use href="#b" x="349" y="357"/>
<use href="#b" x="700" y="297"/>
<use href="#b" x="513" y="304"/>
<use href="#b" x="451" y="277"/>
<use href="#r" x="588" y="276"/>
<use href="#r" x="606" y="295"/>
<use href="#b" x="321" y="315"/>
<use href="#b" x="715" y="273"/>
<use href="#b" x="593" y="273"/>
<use href="#b" x="502" y="297"/>
<use href="#g" x="509" y="264"/>
<use href="#b" x="416" y="304"/>
<use href="#b" x="521" y="274"/>
<use href="#b" x="686" y="242"/>
<use href="#b" x="539" y="299"/>
<use href="#b" x="496" y="304"/>
<use href="#b" x="567" y="296"/>
<use href="#g" x="483" y="255"/>
<use href="#b" x="518" y="291"/>
<use href="#b" x="487" y="284"/>
<use href="#b" x="604" y="302"/>
<use href="#b" x="596" y="279"/>
<use href="#r" x="627" y="302"/>
<use href="#b" x="447" y="291"/>
<use href="#b" x="611" y="293"/>
<use href="#b" x="625" y="248"/>
<use href="#b" x="603" y="269"/>
<use href="#b" x="656" y="250"/>
<use href="#b" x="565" y="294"/>
<use href="#g" x="526" y="305"/>
<use href="#b" x="549" y="303"/>
<use href="#r" x="613" y="326"/>
<use href="#b" x="509" y="259"/>
<use href="#b" x="724" y="266"/>
<use href="#b" x="326" y="349"/>
<use href="#r" x="632" y="306"/>
<use href="#b" x="678" y="313"/>
<use href="#g" x="537" y="247"/>
<use href="#b" x="466" y="317"/>
<use href="#b" x="638" y="278"/>
<use href="#b" x="580" y="267"/>
<use href="#b" x="649" y="300"/>
<use href="#g" x="513" y="376"/>
<use href="#r" x="846" y="311"/>
<use href="#b" x="512" y="268"/>
<use href="#b" x="374" y="315"/>
<use href="#b" x="374" y="314"/>
<use href="#b" x="494" y="284"/>
<use href="#b" x="412" y="254"/>
<use href="#b" x="594" y="290"/>
<use href="#b" x="485" y="277"/>
<use href="#r" x="661" y="312"/>
<use href="#b" x="454" y="306"/>
<use href="#b" x="515" y="334"/>
<use href="#b" x="712" y="341"/>
<use href="#b" x="551" y="311"/>
<use href="#b" x="512" y="279"/>
<use href="#b" x="608" y="264"/>
<use href="#b" x="646" y="311"/>
<use href="#b" x="569" y="298"/>
<use href="#b" x="557" y="319"/>
<use href="#b" x="572" y="254"/>
<use href="#b" x="613" y="312"/>
<use href="#b" x="596" y="307"/>
<use href="#b" x="479" y="309"/>
<use href="#b" x="645" y="281"/>
<use href="#b" x="750" y="255"/>
<use href="#b" x="672" y="289"/>
<use href="#b" x="412" y="318"/>
<use href="#b" x="578" y="298"/>
<use href="#b" x="492" y="304"/>
<use href="#b" x="579" y="316"/>
<use href="#b" x="548" y="311"/>
<use href="#b" x="569" y="272"/>
<use href="#b" x="472" y="261"/>
<use href="#b" x="399" y="307"/>
<use href="#r" x="617" y="312"/>
<use href="#b" x="461" y="317"/>
<use href="#b" x="777" y="299"/>
<use href="#b" x="511" y="278"/>
<use href="#r" x="608" y="288"/>
<use href="#g" x="440" y="286"/>
<use href="#b" x="530" y="292"/>
<use href="#b" x="675" y="281"/>
<use href="#b" x="670" y="264"/>
<use href="#b" x="618" y="305"/>
<use href="#b" x="641" y="300"/>
<use href="#b" x="510" y="291"/>
<use href="#r" x="696" y="355"/>
<use href="#b" x="476" y="275"/>
<use href="#b" x="580" y="318"/>
<use href="#b" x="511" y="310"/>
<use href="#b" x="524" y="276"/>
<use href="#b" x="635" y="372"/>
<use href="#b" x="614" y="286"/>
<use href="#r" x="675" y="306"/>
<use href="#b" x="522" y="152"/>
<use href="#r" x="666" y="304"/>
<use href="#b" x="717" y="266"/>
<use href="#b" x="568" y="265"/>
<use href="#b" x="557" y="286"/>
<use href="#b" x="488" y="332"/>
<use href="#b" x="586" y="283"/>
<use href="#g" x="385" y="310"/>
<use href="#b" x="368" y="298"/>
<use href="#b" x="543" y="288"/>
<use href="#b" x="626" y="274"/>
<use href="#b" x="604" y="293"/>
<use href="#b" x="766" y="309"/>
<use href="#b" x="443" y="264"/>
<use href="#b" x="554" y="299"/>
<use href="#b" x="564" y="303"/>
<use href="#b" x="588" y="331"/>
<use href="#r" x="634" y="301"/>
<use href="#b" x="562" y="273"/>
<use href="#b" x="370" y="308"/>
<use href="#b" x="531" y="279"/>
<use href="#r" x="690" y="281"/>
<use href="#b" x="722" y="288"/>
<use href="#b" x="711" y="310"/>
<use href="#b" x="687" y="283"/>
<use href="#b" x="576" y="298"/>
<use href="#b" x="616" y="286"/>
<use href="#b" x="562" y="289"/>
<use href="#b" x="468" y="285"/>
<use href="#b" x="538" y="316"/>
<use href="#b" x="470" y="293"/>
<use href="#b" x="473" y="296"/>
<use href="#b" x="588" y="265"/>
<use href="#b" x="674" y="303"/>
<use href="#b" x="437" y="263"/>
<use href="#b" x="340" y="513"/>
<use href="#b" x="333" y="282"/>
<use href="#b" x="684" y="315"/>
<use href="#b" x="621" y="292"/>
<use href="#g" x="480" y="289"/>
<use href="#b" x="547" y="318"/>
<use href="#b" x="521" y="254"/>
<use href="#b" x="607" y="281"/>
<use href="#b" x="756" y="275"/>
<use href="#g" x="351" y="345"/>
<use href="#b" x="602" y="312"/>
<use href="#b" x="534" y="309"/>
<use href="#b" x="504" y="291"/>
<use href="#b" x="582" y="271"/>
<use href="#b" x="622" y="271"/>
<use href="#b" x="515" y="281"/>
<use href="#b" x="614" y="294"/>
<use href="#g" x="561" y="266"/>
<use href="#g" x="462" y="312"/>
<use href="#b" x="547" y="271"/>
<use href="#g" x="466" y="237"/>
<use href="#b" x="607" y="339"/>
<use href="#b" x="621" y="306"/>
<use href="#b" x="770" y="298"/>
<use href="#r" x="584" y="297"/>
<use href="#r" x="664" y="264"/>
<use href="#b" x="421" y="284"/>
<use href="#b" x="719" y="300"/>
<use href="#r" x="599" y="253"/>
<use href="#b" x="684" y="298"/>
<use href="#r" x="753" y="293"/>
<use href="#b" x="597" y="287"/>
<use href="#b" x="616" y="309"/>
<use href="#b" x="680" y="288"/>
<use href="#b" x="699" y="279"/>
<use href="#b" x="754" y="220"/>
<use href="#b" x="487" y="292"/>
<use href="#b" x="576" y="306"/>
<use href="#r" x="872" y="309"/>
<use href="#g" x="504" y="254"/>
<use href="#r" x="586" y="335"/>
<use href="#b" x="718" y="273"/>
<use href="#b" x="577" y="316"/>
<use href="#b" x="561" y="261"/>
<use href="#r" x="645" y="286"/>
<use href="#b" x="493" y="332"/>
<use href="#b" x="517" y="300"/>
<use href="#b" x="460" y="284"/>
<use href="#b" x="570" y="295"/>
<use href="#b" x="796" y="279"/>
<use href="#b" x="744" y="291"/>
<use href="#r" x="627" y="287"/>
<use href="#b" x="607" y="261"/>
<use href="#b" x="621" y="320"/>
<use href="#b" x="465" y="292"/>
<use href="#r" x="808" y="289"/>
<use href="#b" x="537" y="282"/>
<use href="#b" x="514" y="294"/>
<use href="#b" x="589" y="293"/>
<use href="#b" x="507" y="307"/>
<use href="#b" x="422" y="311"/>
<use href="#r" x="710" y="285"/>
<use href="#b" x="511" y="301"/>
<use href="#b" x="607" y="290"/>
<use href="#b" x="657" y="261"/>
<use href="#r" x="756" y="197"/>
<use href="#b" x="574" y="285"/>
<use href="#g" x="493" y="245"/>
<use href="#b" x="617" y="298"/>
<use href="#b" x="715" y="262"/>
<use href="#r" x="632" y="295"/>
<use href="#b" x="260" y="296"/>
<use href="#b" x="380" y="302"/>
<use href="#b" x="402" y="280"/>
<use href="#b" x="567" y="259"/>
<use href="#b" x="527" y="274"/>
<use href="#r" x="826" y="310"/>
<use href="#r" x="648" y="320"/>
<use href="#g" x="137" y="323"/>
<use href="#b" x="302" y="294"/>
<use href="#b" x="549" y="296"/>
<use href="#g" x="406" y="288"/>
<use href="#g" x="521" y="317"/>
<use href="#b" x="526" y="338"/>
<use href="#b" x="580" y="281"/>
<use href="#b" x="536" y="311"/>
<use href="#g" x="516" y="293"/>
<use href="#b" x="537" y="307"/>
<use href="#g" x="290" y="294"/>
<use href="#b" x="578" y="297"/>
<use href="#b" x="572" y="276"/>
<use href="#b" x="548" y="270"/>
<use href="#b" x="670" y="247"/>
<use href="#b" x="569" y="288"/>
<use href="#b" x="616" y="239"/>
<use href="#b" x="606" y="258"/>
<use href="#r" x="719" y="405"/>
<use href="#b" x="652" y="302"/>
<use href="#b" x="524" y="333"/>
<use href="#r" x="724" y="281"/>
<use href="#b" x="608" y="304"/>
<use href="#g" x="452" y="320"/>
<use href="#g" x="489" y="309"/>
<use href="#b" x="701" y="209"/>
<use href="#b" x="561" y="297"/>
<use href="#r" x="792" y="277"/>
<use href="#b" x="643" y="294"/>
<use href="#b" x="544" y="301"/>
<use href="#g" x="488" y="263"/>
<use href="#b" x="568" y="318"/>
<use href="#b" x="561" y="271"/>
<use href="#g" x="364" y="269"/>
<use href="#b" x="624" y="280"/>
<use href="#r" x="620" y="285"/>
<use href="#b" x="513" y="263"/>
<use href="#b" x="627" y="262"/>
<use href="#b" x="690" y="267"/>
<use href="#r" x="681" y="309"/>
<use href="#b" x="669" y="264"/>
<use href="#b" x="704" y="279"/>
<use href="#r" x="760" y="326"/>
<use href="#r" x="581" y="266"/>
<use href="#b" x="715" y="242"/>
<use href="#b" x="692" y="274"/>
<use href="#b" x="508" y="335"/>
<use href="#b" x="566" y="306"/>
<use href="#b" x="695" y="293"/>
<use href="#b" x="427" y="279"/>
<use href="#r" x="658" y="325"/>
<use href="#b" x="655" y="293"/>
<use href="#b" x="641" y="280"/>
<use href="#b" x="633" y="284"/>
<use href="#b" x="493" y="286"/>
<use href="#b" x="628" y="292"/>
<use href="#b" x="496" y="313"/>
<use href="#r" x="581" y="278"/>
<use href="#b" x="702" y="289"/>
<use href="#b" x="640" y="291"/>
<use href="#b" x="536" y="246"/>
<use href="#b" x="504" y="266"/>
<use href="#b" x="687" y="298"/>
<use href="#g" x="509" y="310"/>
<use href="#b" x="556" y="291"/>
<use href="#b" x="587" y="228"/>
<use href="#r" x="627" y="328"/>
<use href="#b" x="488" y="304"/>
<use href="#b" x="556" y="294"/>
<use href="#b" x="481" y="275"/>
<use href="#g" x="226" y="294"/>
<use href="#r" x="718" y="296"/>
<use href="#b" x="698" y="311"/>
<use href="#b" x="520" y="326"/>
<use href="#b" x="548" y="300"/>
<use href="#b" x="599" y="310"/>
<use href="#b" x="522" y="338"/>
<use href="#b" x="577" y="259"/>
<use href="#g" x="561" y="322"/>
<use href="#r" x="637" y="313"/>
<use href="#b" x="737" y="286"/>
<use href="#b" x="431" y="307"/>
<use href="#b" x="489" y="298"/>
<use href="#r" x="707" y="321"/>
<use href="#b" x="709" y="286"/>
<use href="#b" x="592" y="287"/>
<use href="#b" x="485" y="257"/>
<use href="#b" x="558" y="238"/>
<use href="#b" x="832" y="277"/>
<use href="#b" x="747" y="288"/>
<use href="#r" x="611" y="308"/>
<use href="#b" x="575" y="301"/>
<use href="#b" x="700" y="187"/>
<use href="#b" x="544" y="293"/>
<use href="#r" x="613" y="338"/>
<use href="#b" x="590" y="300"/>
<use href="#g" x="555" y="269"/>
<use href="#b" x="590" y="291"/>
<use href="#b" x="728" y="312"/>
<use href="#b" x="563" y="270"/>
<use href="#r" x="611" y="280"/>
<use href="#b" x="661" y="290"/>
<use href="#b" x="597" y="317"/>
<use href="#b" x="528" y="311"/>
<use href="#b" x="709" y="296"/>
<use href="#r" x="865" y="338"/>
<use href="#r" x="591" y="332"/>
<use href="#b" x="628" y="265"/>
<use href="#b" x="512" y="317"/>
<use href="#b" x="582" y="314"/>
<use href="#b" x="781" y="193"/>
<use href="#b" x="432" y="255"/>
<use href="#b" x="524" y="286"/>
<use href="#b" x="602" y="296"/>
<use href="#g" x="383" y="338"/>
<use href="#b" x="387" y="270"/>
<use href="#b" x="643" y="285"/>
<use href="#g" x="507" y="271"/>
<use href="#b" x="544" y="281"/>
<use href="#b" x="515" y="270"/>
<use href="#b" x="568" y="317"/>
<use href="#b" x="616" y="348"/>
<use href="#b" x="604" y="288"/>
<use href="#r" x="580" y="244"/>
<use href="#b" x="555" y="290"/>
<use href="#r" x="608" y="309"/>
<use href="#b" x="615" y="299"/>
<use href="#b" x="529" y="302"/>
<use href="#b" x="545" y="273"/>
<use href="#b" x="641" y="271"/>
<use href="#r" x="587" y="307"/>
<use href="#r" x="804" y="360"/>
<use href="#b" x="577" y="325"/>
<use href="#r" x="742" y="290"/>
<use href="#b" x="586" y="293"/>
<use href="#g" x="400" y="275"/>
<use href="#b" x="642" y="278"/>
<use href="#b" x="506" y="305"/>
<use href="#b" x="538" y="310"/>
<use href="#b" x="580" y="303"/>
<use href="#b" x="488" y="309"/>
<use href="#b" x="505" y="298"/>
<use href="#b" x="613" y="305"/>
<use href="#b" x="607" y="276"/>
<use href="#b" x="683" y="300"/>
<use href="#r" x="810" y="311"/>
<use href="#b" x="497" y="290"/>
<use href="#r" x="588" y="293"/>
<use href="#g" x="524" y="246"/>
<use href="#g" x="431" y="268"/>
<use href="#b" x="425" y="268"/>
<use href="#b" x="463" y="291"/>
<use href="#r" x="620" y="273"/>
<use href="#b" x="384" y="276"/>
<use href="#b" x="678" y="377"/>
<use href="#b" x="569" y="321"/>
<use href="#b" x="397" y="308"/>
<use href="#b" x="637" y="283"/>
<use href="#b" x="478" y="285"/>
<use href="#b" x="574" y="276"/>
<use href="#g" x="552" y="273"/>
<use href="#b" x="360" y="295"/>
<use href="#b" x="550" y="282"/>
<use href="#b" x="540" y="281"/>
<use href="#b" x="515" y="303"/>
<use href="#g" x="494" y="283"/>
<use href="#b" x="549" y="299"/>
<use href="#r" x="745" y="280"/>
<use href="#b" x="518" y="291"/>
<use href="#b" x="688" y="277"/>
<use href="#b" x="704" y="302"/>
<use href="#b" x="531" y="307"/>
<use href="#b" x="613" y="372"/>
<use href="#b" x="544" y="282"/>
<use href="#b" x="575" y="274"/>
<use href="#r" x="651" y="282"/>
<use href="#b" x="655" y="279"/>
<use href="#r" x="718" y="272"/>
<use href="#r" x="611" y="284"/>
<use href="#b" x="471" y="244"/>
<use href="#b" x="517" y="281"/>
<use href="#b" x="738" y="333"/>
<use href="#b" x="582" y="270"/>
<use href="#b" x="549" y="270"/>
<use href="#g" x="375" y="339"/>
<use href="#b" x="520" y="285"/>
<use href="#b" x="883" y="288"/>
<use href="#b" x="685" y="269"/>
<use href="#g" x="296" y="276"/>
<use href="#b" x="495" y="354"/>
<use href="#r" x="620" y="293"/>
<use href="#b" x="444" y="276"/>
<use href="#r" x="639" y="282"/>
<use href="#b" x="725" y="229"/>
<use href="#b" x="475" y="271"/>
<use href="#b" x="596" y="298"/>
<use href="#b" x="738" y="257"/>
<use href="#g" x="345" y="310"/>
<use href="#r" x="654" y="274"/>
<use href="#g" x="570" y="305"/>
<use href="#r" x="691" y="273"/>
<use href="#b" x="396" y="316"/>
<use href="#b" x="480" y="314"/>
<use href="#b" x="831" y="256"/>
<use href="#r" x="624" y="311"/>
<use href="#b" x="570" y="316"/>
<use href="#b" x="609" y="292"/>
<use href="#b" x="569" y="272"/>
<use href="#b" x="538" y="271"/>
<use href="#g" x="566" y="336"/>
<use href="#b" x="556" y="280"/>
<use href="#b" x="460" y="318"/>
<use href="#g" x="542" y="298"/>
<use href="#b" x="468" y="299"/>
<use href="#r" x="610" y="329"/>
<use href="#r" x="764" y="291"/>
<use href="#b" x="656" y="294"/>
<use href="#g" x="513" y="280"/>
<use href="#r" x="588" y="252"/>
<use href="#b" x="450" y="321"/>
<use href="#g" x="475" y="280"/>
<use href="#b" x="573" y="271"/>
<use href="#r" x="673" y="300"/>
<use href="#r" x="676" y="297"/>
<use href="#b" x="566" y="288"/>
<use href="#b" x="527" y="276"/>
<use href="#g" x="502" y="251"/>
<use href="#b" x="753" y="266"/>
<use href="#b" x="579" y="293"/>
<use href="#r" x="694" y="315"/>
<use href="#b" x="591" y="298"/>
<use href="#b" x="561" y="311"/>
<use href="#b" x="587" y="307"/>
<use href="#b" x="480" y="288"/>
<use href="#b" x="655" y="302"/>
<use href="#b" x="516" y="280"/>
<use href="#b" x="634" y="302"/>
<use href="#r" x="702" y="289"/>
<use href="#g" x="503" y="284"/>
<use href="#b" x="562" y="297"/>
<use href="#b" x="389" y="252"/>
<use href="#r" x="617" y="264"/>
<use href="#b" x="569" y="278"/>
<use href="#b" x="629" y="348"/>
<use href="#b" x="426" y="288"/>
<use href="#b" x="477" y="267"/>
<use href="#b" x="643" y="276"/>
<use href="#b" x="442" y="295"/>
<use href="#b" x="615" y="330"/>
<use href="#b" x="561" y="324"/>
<use href="#b" x="389" y="261"/>
<use href="#b" x="426" y="296"/>
<use href="#b" x="460" y="298"/>
<use href="#g" x="362" y="296"/>
<use href="#b" x="698" y="277"/>
<use href="#b" x="547" y="291"/>
<use href="#b" x="479" y="329"/>
<use href="#g" x="560" y="275"/>
<use href="#b" x="550" y="311"/>
<use href="#b" x="553" y="312"/>
<use href="#b" x="653" y="343"/>
<use href="#b" x="620" y="280"/>
<use href="#b" x="498" y="294"/>
<use href="#r" x="585" y="264"/>
<use href="#b" x="724" y="285"/>
<use href="#g" x="406" y="272"/>
<use href="#b" x="625" y="327"/>
<use href="#r" x="726" y="312"/>
<use href="#b" x="608" y="274"/>
<use href="#b" x="378" y="320"/>
<use href="#b" x="699" y="304"/>
<use href="#g" x="560" y="308"/>
<use href="#b" x="629" y="296"/>
<use href="#g" x="578" y="275"/>
<use href="#b" x="595" y="287"/>
<use href="#r" x="666" y="228"/>
<use href="#b" x="677" y="293"/>
<use href="#b" x="694" y="300"/>
<use href="#r" x="695" y="302"/>
<use href="#g" x="553" y="245"/>
<use href="#g" x="451" y="316"/>
<use href="#b" x="588" y="366"/>
<use href="#g" x="521" y="305"/>
<use href="#b" x="487" y="332"/>
<use href="#b" x="358" y="318"/>
<use href="#r" x="644" y="272"/>
<use href="#b" x="628" y="295"/>
<use href="#b" x="810" y="246"/>
<use href="#b" x="541" y="273"/>
<use href="#b" x="596" y="286"/>
<use href="#b" x="559" y="380"/>
<use href="#b" x="556" y="280"/>
<use href="#b" x="614" y="287"/>
<use href="#b" x="723" y="188"/>
<use href="#b" x="696" y="318"/>
<use href="#b" x="714" y="339"/>
<use href="#r" x="638" y="296"/>
<use href="#r" x="636" y="335"/>
<use href="#b" x="571" y="282"/>
<use href="#b" x="586" y="271"/>
<use href="#b" x="701" y="281"/>
<use href="#b" x="489" y="286"/>
<use href="#g" x="367" y="320"/>
<use href="#r" x="634" y="398"/>
<use href="#r" x="618" y="304"/>
<use href="#b" x="621" y="301"/>
<use href="#b" x="639" y="282"/>
<use href="#b" x="521" y="320"/>
<use href="#b" x="819" y="281"/>
<use href="#b" x="631" y="279"/>
<use href="#g" x="462" y="258"/>
<use href="#b" x="666" y="265"/>
<use href="#r" x="675" y="195"/>
<use href="#b" x="659" y="289"/>
<use href="#b" x="546" y="263"/>
<use href="#r" x="774" y="289"/>
<use href="#b" x="682" y="302"/>
<use href="#g" x="558" y="288"/>
<use href="#b" x="554" y="304"/>
<use href="#b" x="622" y="242"/>
<use href="#b" x="667" y="270"/>
<use href="#b" x="562" y="298"/>
<use href="#r" x="658" y="282"/>
<use href="#b" x="594" y="277"/>
<use href="#b" x="375" y="322"/>
<use href="#b" x="545" y="268"/>
<use href="#b" x="468" y="285"/>
<use href="#b" x="422" y="307"/>
<use href="#b" x="544" y="261"/>
<use href="#b" x="522" y="313"/>
<use href="#b" x="716" y="258"/>
<use href="#b" x="411" y="295"/>
<use href="#b" x="426" y="285"/>
<use href="#b" x="484" y="289"/>
<use href="#b" x="614" y="296"/>
<use href="#b" x="648" y="282"/>
<use href="#b" x="541" y="241"/>
<use href="#b" x="668" y="301"/>
<use href="#b" x="669" y="313"/>
<use href="#b" x="690" y="296"/>
<use href="#b" x="264" y="296"/>
<use href="#b" x="534" y="272"/>
<use href="#b" x="655" y="238"/>
<use href="#g" x="563" y="244"/>
<use href="#b" x="533" y="313"/>
<use href="#b" x="625" y="313"/>
<use href="#b" x="483" y="300"/>
<use href="#b" x="384" y="308"/>
<use href="#b" x="416" y="282"/>
<use href="#b" x="622" y="193"/>
<use href="#b" x="613" y="263"/>
<use href="#b" x="505" y="268"/>
<use href="#b" x="708" y="254"/>
<use href="#b" x="298" y="304"/>
<use href="#b" x="520" y="276"/>
<use href="#b" x="540" y="312"/>
<use href="#b" x="408" y="262"/>
<use href="#b" x="652" y="270"/>
<use href="#b" x="532" y="316"/>
<use href="#b" x="485" y="320"/>
<use href="#b" x="582" y="282"/>
<use href="#b" x="619" y="306"/>
<use href="#r" x="654" y="294"/>
<use href="#b" x="526" y="278"/>
<use href="#b" x="366" y="283"/>
<use href="#b" x="578" y="257"/>
<use href="#r" x="811" y="321"/>
<use href="#b" x="549" y="175"/>
<use href="#b" x="573" y="304"/>
<use href="#g" x="562" y="285"/>
<use href="#b" x="682" y="322"/>
<use href="#b" x="508" y="296"/>
<use href="#r" x="660" y="331"/>
<use href="#b" x="575" y="301"/>
<use href="#b" x="509" y="276"/>
<use href="#b" x="446" y="314"/>
<use href="#r" x="666" y="285"/>
<use href="#b" x="546" y="312"/>
<use href="#r" x="614" y="270"/>
<use href="#b" x="577" y="281"/>
<use href="#g" x="368" y="259"/>
<use href="#b" x="624" y="326"/>
<use href="#b" x="691" y="288"/>
<use href="#b" x="523" y="286"/>
<use href="#b" x="427" y="246"/>
<use href="#r" x="680" y="290"/>
<use href="#b" x="790" y="287"/>
<use href="#b" x="367" y="299"/>
<use href="#b" x="481" y="252"/>
<use href="#g" x="296" y="207"/>
<use href="#r" x="866" y="305"/>
<use href="#b" x="664" y="310"/>
<use href="#b" x="570" y="296"/>
<use href="#g" x="492" y="318"/>
<use href="#r" x="852" y="290"/>
<use href="#b" x="597" y="266"/>
<use href="#b" x="594" y="268"/>
<use href="#b" x="569" y="278"/>
<use href="#b" x="550" y="319"/>
<use href="#b" x="401" y="299"/>
<use href="#r" x="656" y="263"/>
<use href="#r" x="627" y="288"/>
<use href="#b" x="657" y="302"/>
<use href="#b" x="658" y="310"/>
<use href="#r" x="602" y="291"/>
<use href="#b" x="601" y="286"/>
<use href="#b" x="589" y="319"/>
<use href="#g" x="537" y="360"/>
<use href="#g" x="442" y="304"/>
<use href="#r" x="609" y="265"/>
<use href="#b" x="562" y="622"/>
<use href="#b" x="572" y="282"/>
<use href="#b" x="505" y="314"/>
<use href="#b" x="351" y="302"/>
<use href="#b" x="429" y="274"/>
<use href="#b" x="688" y="302"/>
<use href="#b" x="480" y="271"/>
<use href="#b" x="515" y="328"/>
<use href="#b" x="521" y="274"/>
<use href="#b" x="513" y="303"/>
<use href="#b" x="606" y="310"/>
<use href="#b" x="456" y="276"/>
<use href="#b" x="663" y="298"/>
<use href="#b" x="530" y="308"/>
<use href="#g" x="576" y="325"/>
<use href="#b" x="501" y="298"/>
<use href="#b" x="664" y="311"/>
<use href="#b" x="609" y="322"/>
<use href="#b" x="557" y="322"/>
<use href="#b" x="636" y="291"/>
<use href="#b" x="524" y="292"/>
<use href="#b" x="577" y="286"/>
<use href="#b" x="660" y="331"/>
<use href="#b" x="500" y="297"/>
<use href="#b" x="436" y="293"/>
<use href="#r" x="745" y="272"/>
<use href="#b" x="507" y="282"/>
<use href="#r" x="607" y="296"/>
<use href="#b" x="686" y="304"/>
<use href="#b" x="439" y="288"/>
<use href="#b" x="626" y="261"/>
<use href="#b" x="582" y="298"/>
<use href="#r" x="788" y="268"/>
<use href="#b" x="462" y="321"/>
<use href="#g" x="578" y="296"/>
<use href="#b" x="460" y="294"/>
<use href="#b" x="448" y="283"/>
<use href="#b" x="739" y="297"/>
<use href="#b" x="675" y="289"/>
<use href="#b" x="696" y="293"/>
<use href="#b" x="671" y="300"/>
<use href="#g" x="557" y="260"/>
<use href="#b" x="609" y="235"/>
<use href="#b" x="528" y="282"/>
<use href="#r" x="612" y="305"/>
<use href="#r" x="593" y="331"/>
<use href="#b" x="569" y="268"/>
<use href="#r" x="664" y="324"/>
<use href="#b" x="625" y="282"/>
<use href="#b" x="668" y="238"/>
<use href="#b" x="738" y="284"/>
<use href="#b" x="684" y="309"/>
<use href="#b" x="380" y="274"/>
<use href="#b" x="506" y="300"/>
<use href="#b" x="566" y="277"/>
<use href="#r" x="618" y="293"/>
<use href="#b" x="553" y="291"/>
<use href="#b" x="634" y="332"/>
<use href="#g" x="560" y="272"/>
<use href="#r" x="819" y="290"/>
<use href="#b" x="611" y="215"/>
<use href="#b" x="444" y="475"/>
<use href="#b" x="602" y="253"/>
<use href="#g" x="517" y="289"/>
<use href="#r" x="678" y="323"/>
<use href="#r" x="740" y="267"/>
<use href="#b" x="690" y="277"/>
<use href="#r" x="680" y="288"/>
<use href="#b" x="479" y="278"/>
<use href="#b" x="598" y="309"/>
<use href="#b" x="466" y="292"/>
<use href="#b" x="819" y="288"/>
<use href="#r" x="646" y="250"/>
<use href="#r" x="590" y="315"/>
<use href="#b" x="624" y="271"/>
<use href="#b" x="436" y="278"/>
<use href="#r" x="588" y="278"/>
<use href="#g" x="500" y="292"/>
<use href="#b" x="512" y="296"/>
<use href="#b" x="614" y="296"/>
<use href="#b" x="649" y="319"/>
<use href="#r" x="588" y="276"/>
<use href="#b" x="725" y="303"/>
<use href="#b" x="458" y="313"/>
<use href="#b" x="582" y="283"/>
<use href="#b" x="410" y="259"/>
<use href="#g" x="488" y="264"/>
<use href="#b" x="666" y="300"/>
<use href="#b" x="457" y="303"/>
<use href="#g" x="375" y="312"/>
<use href="#b" x="452" y="279"/>
<use href="#b" x="639" y="304"/>
<use href="#g" x="519" y="292"/>
<use href="#r" x="603" y="264"/>
<use href="#b" x="606" y="308"/>
<use href="#g" x="554" y="289"/>
<use href="#b" x="554" y="233"/>
<use href="#b" x="537" y="238"/>
<use href="#g" x="573" y="337"/>
<use href="#b" x="144" y="339"/>
<use href="#b" x="609" y="272"/>
<use href="#b" x="320" y="257"/>
<use href="#b" x="696" y="277"/>
<use href="#r" x="583" y="297"/>
<use href="#r" x="645" y="299"/>
<use href="#b" x="659" y="306"/>
<use href="#g" x="369" y="286"/>
<use href="#b" x="520" y="282"/>
<use href="#b" x="531" y="301"/>
<use href="#r" x="655" y="295"/>
<use href="#b" x="535" y="308"/>
<use href="#b" x="596" y="314"/>
<use href="#b" x="670" y="309"/>
<use href="#r" x="810" y="284"/>
<use href="#b" x="700" y="291"/>
<use href="#b" x="716" y="293"/>
<use href="#r" x="633" y="290"/>
<use href="#r" x="671" y="325"/>
<use href="#g" x="458" y="325"/>
<use href="#b" x="605" y="283"/>
<use href="#b" x="539" y="275"/>
<use href="#g" x="506" y="274"/>
<use href="#b" x="644" y="308"/>
<use href="#r" x="663" y="332"/>
<use href="#b" x="576" y="277"/>
<use href="#b" x="616" y="310"/>
<use href="#b" x="610" y="280"/>
<use href="#b" x="718" y="302"/>
<use href="#b" x="550" y="301"/>
<use href="#r" x="639" y="318"/>
<use href="#b" x="568" y="278"/>
<use href="#r" x="584" y="288"/>
<use href="#b" x="627" y="286"/>
<use href="#b" x="630" y="270"/>
<use href="#g" x="516" y="156"/>
<use href="#g" x="465" y="266"/>
<use href="#b" x="729" y="270"/>
<use href="#b" x="430" y="292"/>
<use href="#r" x="651" y="309"/>
<use href="#b" x="640" y="271"/>
<use href="#g" x="501" y="279"/>
<use href="#b" x="358" y="284"/>
<use href="#b" x="608" y="302"/>
<use href="#r" x="614" y="272"/>
<use href="#r" x="705" y="306"/>
<use href="#b" x="628" y="333"/>
<use href="#b" x="648" y="292"/>
<use href="#b" x="673" y="302"/>
<use href="#b" x="515" y="324"/>
<use href="#b" x="543" y="622"/>
<use href="#g" x="519" y="679"/>
<use href="#r" x="737" y="281"/>
<use href="#b" x="519" y="315"/>
<use href="#r" x="583" y="260"/>
<use href="#b" x="824" y="304"/>
<use href="#r" x="666" y="286"/>
<use href="#b" x="565" y="254"/>
<use href="#r" x="687" y="294"/>
<use href="#g" x="367" y="320"/>
<use href="#b" x="459" y="309"/>
<use href="#b" x="535" y="268"/>
<use href="#b" x="508" y="228"/>
<use href="#b" x="694" y="322"/>
<use href="#g" x="462" y="261"/>
<use href="#b" x="454" y="281"/>
<use href="#b" x="585" y="282"/>
<use href="#b" x="570" y="300"/>
<use href="#g" x="172" y="299"/>
<use href="#b" x="511" y="297"/>
<use href="#g" x="343" y="276"/>
<use href="#r" x="597" y="293"/>
<use href="#b" x="516" y="304"/>
<use href="#g" x="375" y="291"/>
<use href="#g" x="519" y="241"/>
<use href="#r" x="772" y="284"/>
<use href="#b" x="564" y="289"/>
<use href="#b" x="571" y="286"/>
<use href="#b" x="550" y="280"/>
<use href="#b" x="595" y="276"/>
<use href="#b" x="628" y="276"/>
<use href="#b" x="616" y="278"/>
<use href="#r" x="624" y="297"/>
<use href="#b" x="469" y="279"/>
<use href="#r" x="782" y="282"/>
<use href="#r" x="768" y="279"/>
<use href="#b" x="566" y="294"/>
<use href="#b" x="586" y="258"/>
<use href="#r" x="718" y="274"/>
<use href="#b" x="617" y="267"/>
<use href="#b" x="474" y="298"/>
<use href="#b" x="668" y="282"/>
<use href="#b" x="455" y="316"/>
<use href="#g" x="394" y="314"/>
<use href="#b" x="575" y="305"/>
<use href="#b" x="629" y="277"/>
<use href="#r" x="634" y="232"/>
<use href="#r" x="657" y="334"/>
<use href="#b" x="490" y="299"/>
<use href="#b" x="535" y="291"/>
<use href="#b" x="354" y="281"/>
<use href="#r" x="693" y="247"/>
<use href="#g" x="450" y="290"/>
<use href="#g" x="554" y="306"/>
<use href="#r" x="671" y="290"/>
<use href="#b" x="632" y="286"/>
<use href="#g" x="429" y="299"/>
<use href="#b" x="504" y="309"/>
<use href="#b" x="468" y="302"/>
<use href="#b" x="492" y="336"/>
<use href="#b" x="312" y="291"/>
<use href="#b" x="463" y="333"/>
<use href="#b" x="558" y="288"/>
<use href="#b" x="623" y="303"/>
<use href="#r" x="631" y="293"/>
<use href="#b" x="736" y="282"/>
<use href="#g" x="542" y="304"/>
<use href="#b" x="464" y="310"/>
<use href="#b" x="753" y="243"/>
<use href="#b" x="656" y="278"/>
<use href="#r" x="641" y="284"/>
<use href="#b" x="560" y="294"/>
<use href="#b" x="546" y="299"/>
<use href="#g" x="490" y="286"/>
<use href="#b" x="502" y="302"/>
<use href="#g" x="573" y="226"/>
<use href="#g" x="536" y="301"/>
<use href="#b" x="735" y="276"/>
<use href="#b" x="581" y="295"/>
<use href="#b" x="581" y="284"/>
<use href="#g" x="485" y="282"/>
<use href="#b" x="701" y="275"/>
<use href="#g" x="442" y="269"/>
<use href="#b" x="562" y="274"/>
<use href="#b" x="567" y="288"/>
<use href="#b" x="498" y="246"/>
<use href="#b" x="522" y="273"/>
<use href="#b" x="518" y="293"/>
<use href="#b" x="564" y="271"/>
<use href="#b" x="507" y="271"/>
<use href="#b" x="579" y="288"/>
<use href="#b" x="419" y="279"/>
<use href="#b" x="688" y="281"/>
<use href="#b" x="637" y="175"/>
<use href="#b" x="597" y="308"/>
<use href="#g" x="508" y="288"/>
<use href="#b" x="467" y="279"/>
<use href="#g" x="542" y="258"/>
<use href="#b" x="560" y="289"/>
<use href="#r" x="635" y="286"/>
<use href="#r" x="609" y="424"/>
<use href="#b" x="460" y="313"/>
<use href="#b" x="594" y="306"/>
<use href="#b" x="528" y="292"/>
<use href="#r" x="747" y="257"/>
<use href="#r" x="717" y="257"/>
<use href="#b" x="815" y="301"/>
<use href="#b" x="573" y="309"/>
<use href="#b" x="462" y="319"/>
<use href="#r" x="588" y="315"/>
<use href="#b" x="462" y="286"/>
<use href="#b" x="606" y="267"/>
<use href="#r" x="712" y="304"/>
<use href="#r" x="697" y="316"/>
<use href="#b" x="372" y="325"/>
<use href="#b" x="491" y="301"/>
<use href="#b" x="680" y="288"/>
<use href="#b" x="436" y="278"/>
<use href="#b" x="657" y="311"/>
<use href="#r" x="582" y="299"/>
<use href="#b" x="640" y="286"/>
<use href="#b" x="478" y="298"/>
<use href="#b" x="397" y="312"/>
<use href="#b" x="353" y="167"/>
<use href="#b" x="442" y="234"/>
<use href="#b" x="618" y="281"/>
<use href="#b" x="520" y="283"/>
<use href="#b" x="697" y="254"/>
<use href="#b" x="539" y="299"/>
<use href="#r" x="590" y="288"/>
<use href="#b" x="480" y="294"/>
<use href="#b" x="572" y="307"/>
<use href="#b" x="721" y="285"/>
<use href="#r" x="588" y="278"/>
<use href="#b" x="557" y="304"/>
<use href="#g" x="453" y="285"/>
<use href="#r" x="742" y="282"/>
<use href="#g" x="504" y="392"/>
<use href="#g" x="573" y="341"/>
<use href="#b" x="580" y="289"/>
<use href="#b" x="847" y="286"/>
<use href="#b" x="690" y="286"/>
<use href="#b" x="512" y="325"/>
<use href="#b" x="490" y="279"/>
<use href="#b" x="381" y="300"/>
<use href="#b" x="612" y="294"/>
<use href="#b" x="450" y="278"/>
<use href="#g" x="561" y="269"/>
<use href="#r" x="777" y="277"/>
<use href="#b" x="554" y="292"/>
<use href="#b" x="493" y="299"/>
<use href="#b" x="460" y="310"/>
<use href="#b" x="675" y="296"/>
<use href="#r" x="616" y="298"/>
<use href="#b" x="635" y="282"/>
<use href="#b" x="763" y="280"/>
<use href="#b" x="587" y="284"/>
<use href="#b" x="289" y="296"/>
<use href="#g" x="339" y="303"/>
<use href="#b" x="785" y="187"/>
<use href="#r" x="706" y="251"/>
<use href="#b" x="636" y="282"/>
<use href="#b" x="578" y="312"/>
<use href="#b" x="660" y="298"/>
<use href="#g" x="371" y="283"/>
<use href="#g" x="576" y="256"/>
<use href="#b" x="570" y="308"/>
<use href="#b" x="618" y="244"/>
<use href="#g" x="556" y="286"/>
<use href="#g" x="419" y="270"/>
<use href="#b" x="833" y="265"/>
<use href="#g" x="544" y="314"/>
<use href="#b" x="560" y="305"/>
<use href="#b" x="593" y="298"/>
<use href="#b" x="566" y="280"/>
<use href="#b" x="570" y="270"/>
<use href="#r" x="727" y="284"/>
<use href="#b" x="452" y="256"/>
<use href="#r" x="608" y="292"/>
<use href="#b" x="624" y="274"/>
<use href="#g" x="372" y="275"/>
<use href="#b" x="715" y="295"/>
<use href="#b" x="696" y="282"/>
<use href="#b" x="542" y="318"/>
<use href="#b" x="669" y="290"/>
<use href="#g" x="431" y="273"/>
<use href="#r" x="645" y="272"/>
<use href="#b" x="734" y="312"/>
<use href="#b" x="375" y="278"/>
<use href="#b" x="519" y="259"/>
<use href="#b" x="436" y="307"/>
<use href="#b" x="813" y="278"/>
<use href="#b" x="487" y="288"/>
<use href="#b" x="674" y="308"/>
<use href="#b" x="643" y="278"/>
<use href="#b" x="448" y="300"/>
<use href="#r" x="731" y="220"/>
<use href="#g" x="446" y="303"/>
<use href="#g" x="432" y="283"/>
<use href="#b" x="594" y="301"/>
<use href="#b" x="667" y="324"/>
<use href="#b" x="452" y="301"/>
<use href="#b" x="484" y="251"/>
<use href="#b" x="550" y="286"/>
<use href="#b" x="814" y="254"/>
<use href="#b" x="554" y="305"/>
<use href="#b" x="527" y="302"/>
<use href="#r" x="711" y="334"/>
<use href="#b" x="662" y="263"/>
<use href="#b" x="549" y="278"/>
<use href="#r" x="587" y="762"/>
<use href="#b" x="754" y="316"/>
<use href="#b" x="534" y="351"/>
<use href="#g" x="454" y="330"/>
<use href="#b" x="521" y="268"/>
<use href="#g" x="496" y="296"/>
<use href="#g" x="486" y="288"/>
<use href="#b" x="515" y="269"/>
<use href="#g" x="570" y="290"/>
<use href="#b" x="558" y="306"/>
<use href="#b" x="517" y="295"/>
<use href="#g" x="470" y="296"/>
<use href="#b" x="575" y="285"/>
<use href="#b" x="726" y="286"/>
<use href="#b" x="746" y="275"/>
<use href="#b" x="637" y="352"/>
<use href="#b" x="542" y="298"/>
<use href="#b" x="723" y="328"/>
<use href="#g" x="574" y="291"/>
<use href="#b" x="580" y="291"/>
<use href="#b" x="626" y="309"/>
<use href="#b" x="650" y="309"/>
<use href="#b" x="662" y="278"/>
<use href="#b" x="489" y="282"/>
<use href="#r" x="625" y="263"/>
<use href="#b" x="622" y="281"/>
<use href="#r" x="583" y="310"/>
<use href="#r" x="659" y="280"/>
<use href="#b" x="539" y="246"/>
<use href="#r" x="663" y="311"/>
<use href="#b" x="657" y="292"/>
<use href="#b" x="479" y="272"/>
<use href="#b" x="703" y="298"/>
<use href="#b" x="630" y="282"/>
<use href="#b" x="702" y="300"/>
<use href="#r" x="594" y="277"/>
<use href="#b" x="631" y="309"/>
<use href="#b" x="715" y="399"/>
<use href="#b" x="464" y="341"/>
<use href="#b" x="637" y="288"/>
<use href="#b" x="329" y="278"/>
<use href="#b" x="666" y="308"/>
<use href="#g" x="468" y="313"/>
<use href="#b" x="483" y="324"/>
<use href="#b" x="566" y="285"/>
<use href="#b" x="517" y="345"/>
<use href="#g" x="538" y="310"/>
<use href="#b" x="638" y="296"/>
<use href="#b" x="506" y="285"/>
<use href="#b" x="638" y="271"/>
<use href="#b" x="626" y="300"/>
<use href="#b" x="402" y="265"/>
<use href="#b" x="748" y="238"/>
<use href="#b" x="548" y="291"/>
<use href="#b" x="445" y="290"/>
<use href="#r" x="615" y="282"/>
<use href="#b" x="682" y="287"/>
<use href="#b" x="459" y="279"/>
<use href="#r" x="784" y="294"/>
<use href="#b" x="496" y="291"/>
<use href="#b" x="411" y="305"/>
<use href="#b" x="412" y="326"/>
<use href="#b" x="192" y="290"/>
<use href="#b" x="468" y="302"/>
<use href="#r" x="752" y="292"/>
<use href="#b" x="598" y="256"/>
<use href="#g" x="473" y="312"/>
<use href="#b" x="493" y="309"/>
<use href="#g" x="501" y="498"/>
<use href="#g" x="479" y="310"/>
<use href="#b" x="532" y="321"/>
<use href="#b" x="492" y="328"/>
<use href="#b" x="606" y="303"/>
<use href="#b" x="471" y="282"/>
<use href="#b" x="613" y="350"/>
<use href="#r" x="604" y="320"/>
<use href="#b" x="663" y="288"/>
<use href="#b" x="529" y="288"/>
<use href="#b" x="504" y="268"/>
<use href="#g" x="456" y="255"/>
<use href="#r" x="856" y="306"/>
<use href="#b" x="515" y="304"/>
<use href="#b" x="394" y="275"/>
<use href="#b" x="529" y="271"/>
<use href="#b" x="530" y="292"/>
<use href="#r" x="668" y="305"/>
<use href="#b" x="761" y="292"/>
<use href="#b" x="523" y="330"/>
<use href="#b" x="456" y="283"/>
<use href="#g" x="531" y="285"/>
<use href="#b" x="585" y="288"/>
<use href="#b" x="515" y="316"/>
<use href="#b" x="568" y="328"/>
<use href="#b" x="612" y="238"/>
<use href="#b" x="583" y="312"/>
<use href="#b" x="492" y="288"/>
<use href="#b" x="509" y="259"/>
<use href="#b" x="586" y="304"/>
<use href="#b" x="701" y="295"/>
<use href="#b" x="623" y="205"/>
<use href="#b" x="538" y="322"/>
<use href="#b" x="523" y="292"/>
<use href="#b" x="733" y="305"/>
<use href="#b" x="392" y="335"/>
<use href="#b" x="546" y="266"/>
<use href="#b" x="454" y="287"/>
<use href="#b" x="665" y="302"/>
<use href="#b" x="581" y="314"/>
<use href="#b" x="625" y="276"/>
<use href="#b" x="374" y="211"/>
<use href="#b" x="441" y="307"/>
<use href="#b" x="701" y="254"/>
<use href="#b" x="389" y="323"/>
<use href="#r" x="595" y="285"/>
<use href="#b" x="656" y="287"/>
<use href="#b" x="533" y="296"/>
<use href="#b" x="637" y="274"/>
<use href="#b" x="471" y="288"/>
<use href="#b" x="428" y="263"/>
<use href="#b" x="642" y="289"/>
<use href="#b" x="488" y="284"/>
<use href="#b" x="596" y="239"/>
<use href="#b" x="751" y="271"/>
<use href="#b" x="550" y="292"/>
<use href="#b" x="524" y="289"/>
<use href="#r" x="620" y="338"/>
<use href="#g" x="237" y="288"/>
<use href="#b" x="722" y="292"/>
<use href="#b" x="498" y="255"/>
<use href="#r" x="622" y="303"/>
<use href="#g" x="554" y="299"/>
<use href="#b" x="726" y="301"/>
<use href="#b" x="403" y="310"/>
<use href="#b" x="518" y="293"/>
<use href="#r" x="608" y="278"/>
<use href="#b" x="816" y="304"/>
<use href="#b" x="556" y="295"/>
<use href="#r" x="650" y="256"/>
<use href="#b" x="571" y="280"/>
<use href="#r" x="617" y="324"/>
<use href="#b" x="450" y="310"/>
<use href="#b" x="523" y="299"/>
<use href="#g" x="392" y="335"/>
<use href="#b" x="486" y="333"/>
<use href="#b" x="514" y="288"/>
<use href="#g" x="398" y="291"/>
<use href="#b" x="565" y="332"/>
<use href="#b" x="566" y="377"/>
<use href="#b" x="832" y="249"/>
<use href="#b" x="668" y="287"/>
<use href="#b" x="655" y="305"/>
<use href="#b" x="575" y="292"/>
<use href="#b" x="662" y="321"/>
<use href="#b" x="523" y="304"/>
<use href="#b" x="632" y="280"/>
<use href="#b" x="773" y="307"/>
<use href="#b" x="446" y="285"/>
<use href="#r" x="709" y="322"/>
<use href="#b" x="651" y="290"/>
<use href="#b" x="438" y="290"/>
<use href="#b" x="530" y="315"/>
<use href="#r" x="744" y="269"/>
<use href="#b" x="631" y="311"/>
<use href="#b" x="526" y="302"/>
<use href="#r" x="655" y="213"/>
<use href="#b" x="597" y="321"/>
<use href="#b" x="624" y="293"/>
<use href="#b" x="688" y="258"/>
<use href="#b" x="460" y="281"/>
<use href="#b" x="408" y="280"/>
<use href="#b" x="519" y="287"/>
<use href="#b" x="467" y="311"/>
<use href="#r" x="632" y="281"/>
<use href="#b" x="667" y="283"/>
<use href="#b" x="567" y="294"/>
<use href="#b" x="526" y="281"/>
<use href="#b" x="493" y="335"/>
<use href="#b" x="558" y="265"/>
<use href="#b" x="616" y="304"/>
<use href="#b" x="558" y="334"/>
<use href="#b" x="378" y="320"/>
<use href="#b" x="500" y="294"/>
<use href="#b" x="633" y="289"/>
<use href="#b" x="606" y="309"/>
<use href="#b" x="518" y="282"/>
<use href="#b" x="422" y="318"/>
<use href="#b" x="503" y="292"/>
<use href="#g" x="468" y="292"/>
<use href="#b" x="453" y="325"/>
<use href="#b" x="513" y="225"/>
<use href="#r" x="622" y="341"/>
<use href="#b" x="624" y="213"/>
<use href="#g" x="406" y="329"/>
<use href="#b" x="371" y="294"/>
<use href="#b" x="635" y="306"/>
<use href="#r" x="605" y="303"/>
<use href="#b" x="582" y="310"/>
<use href="#r" x="612" y="290"/>
<use href="#b" x="462" y="277"/>
<use href="#b" x="628" y="298"/>
<use href="#b" x="705" y="287"/>
<use href="#b" x="597" y="358"/>
<use href="#b" x="552" y="317"/>
<use href="#b" x="657" y="232"/>
<use href="#b" x="463" y="304"/>
<use href="#g" x="575" y="298"/>
<use href="#b" x="609" y="296"/>
<use href="#r" x="604" y="264"/>
<use href="#b" x="338" y="273"/>
<use href="#b" x="582" y="294"/>
<use href="#b" x="473" y="307"/>
<use href="#b" x="593" y="304"/>
<use href="#b" x="473" y="303"/>
<use href="#r" x="613" y="313"/>
<use href="#b" x="640" y="234"/>
<use href="#b" x="550" y="289"/>
<use href="#g" x="529" y="324"/>
<use href="#b" x="476" y="309"/>
<use href="#b" x="695" y="302"/>
<use href="#g" x="424" y="282"/>
<use href="#b" x="680" y="295"/>
<use href="#b" x="579" y="291"/>
<use href="#b" x="597" y="285"/>
<use href="#b" x="460" y="283"/>
<use href="#b" x="590" y="270"/>
<use href="#r" x="639" y="305"/>
<use href="#b" x="540" y="308"/>
<use href="#r" x="618" y="290"/>
<use href="#r" x="595" y="246"/>
<use href="#r" x="712" y="248"/>
<use href="#b" x="417" y="268"/>
<use href="#b" x="638" y="290"/>
<use href="#b" x="724" y="303"/>
<use href="#b" x="536" y="302"/>
<use href="#r" x="589" y="321"/>
<use href="#r" x="585" y="234"/>
<use href="#b" x="551" y="305"/>
<use href="#b" x="605" y="284"/>
<use href="#b" x="857" y="268"/>
<use href="#b" x="553" y="290"/>
<use href="#b" x="488" y="285"/>
<use href="#r" x="613" y="290"/>
<use href="#b" x="767" y="295"/>
<use href="#b" x="584" y="243"/>
<use href="#r" x="785" y="252"/>
<use href="#g" x="412" y="304"/>
<use href="#b" x="487" y="307"/>
<use href="#b" x="548" y="187"/>
<use href="#r" x="657" y="301"/>
<use href="#b" x="417" y="298"/>
<use href="#r" x="591" y="277"/>
<use href="#b" x="274" y="303"/>
<use href="#r" x="815" y="301"/>
<use href="#b" x="624" y="288"/>
<use href="#b" x="493" y="247"/>
<use href="#b" x="719" y="269"/>
<use href="#g" x="480" y="280"/>
<use href="#b" x="457" y="301"/>
<use href="#b" x="787" y="261"/>
<use href="#b" x="558" y="230"/>
<use href="#b" x="701" y="392"/>
<use href="#b" x="684" y="294"/>
<use href="#b" x="296" y="267"/>
<use href="#b" x="606" y="304"/>
<use href="#b" x="568" y="319"/>
<use href="#b" x="890" y="232"/>
<use href="#g" x="446" y="283"/>
<use href="#g" x="500" y="285"/>
<use href="#b" x="519" y="296"/>
<use href="#b" x="748" y="278"/>
<use href="#b" x="584" y="294"/>
<use href="#g" x="471" y="282"/>
<use href="#r" x="648" y="308"/>
<use href="#b" x="535" y="289"/>
<use href="#g" x="412" y="299"/>
<use href="#b" x="637" y="262"/>
<use href="#b" x="628" y="291"/>
<use href="#b" x="601" y="281"/>
<use href="#b" x="644" y="280"/>
<use href="#b" x="778" y="261"/>
<use href="#b" x="497" y="320"/>
<use href="#b" x="395" y="280"/>
<use href="#b" x="504" y="408"/>
<use href="#b" x="554" y="303"/>
<use href="#b" x="408" y="290"/>
<use href="#b" x="635" y="171"/>
<use href="#b" x="540" y="296"/>
<use href="#b" x="539" y="303"/>
<use href="#b" x="612" y="307"/>
<use href="#b" x="646" y="311"/>
<use href="#r" x="626" y="283"/>
<use href="#b" x="485" y="304"/>
<use href="#r" x="584" y="275"/>
<use href="#r" x="616" y="286"/>
<use href="#b" x="572" y="290"/>
<use href="#b" x="512" y="222"/>
<use href="#b" x="548" y="313"/>
<use href="#b" x="638" y="302"/>
<use href="#b" x="635" y="288"/>
<use href="#g" x="399" y="302"/>
<use href="#r" x="746" y="249"/>
<use href="#b" x="570" y="311"/>
<use href="#r" x="628" y="240"/>
<use href="#b" x="357" y="309"/>
<use href="#g" x="547" y="303"/>
<use href="#b" x="663" y="297"/>
<use href="#b" x="571" y="198"/>
<use href="#b" x="623" y="287"/>
<use href="#b" x="533" y="290"/>
<use href="#b" x="547" y="292"/>
<use href="#g" x="486" y="296"/>
<use href="#b" x="610" y="254"/>
<use href="#b" x="830" y="251"/>
<use href="#g" x="572" y="302"/>
<use href="#b" x="577" y="298"/>
<use href="#g" x="332" y="289"/>
<use href="#b" x="518" y="274"/>
<use href="#b" x="645" y="281"/>
<use href="#b" x="653" y="382"/>
<use href="#b" x="930" y="281"/>
<use href="#r" x="586" y="253"/>
<use href="#b" x="461" y="308"/>
<use href="#r" x="634" y="290"/>
<use href="#b" x="553" y="342"/>
<use href="#b" x="715" y="284"/>
<use href="#b" x="564" y="249"/>
<use href="#b" x="844" y="289"/>
<use href="#b" x="803" y="285"/>
<use href="#g" x="437" y="304"/>
<use href="#b" x="549" y="286"/>
<use href="#b" x="524" y="320"/>
<use href="#b" x="687" y="286"/>
<use href="#b" x="553" y="293"/>
<use href="#b" x="444" y="288"/>
<use href="#b" x="562" y="298"/>
<use href="#b" x="728" y="277"/>
<use href="#b" x="599" y="300"/>
<use href="#b" x="622" y="295"/>
<use href="#r" x="609" y="273"/>
<use href="#b" x="543" y="309"/>
<use href="#r" x="619" y="281"/>
<use href="#b" x="541" y="304"/>
<use href="#g" x="551" y="303"/>
<use href="#g" x="410" y="276"/>
<use href="#b" x="446" y="284"/>
<use href="#b" x="497" y="310"/>
<use href="#b" x="280" y="326"/>
<use href="#b" x="268" y="274"/>
<use href="#r" x="707" y="246"/>
<use href="#b" x="794" y="282"/>
<use href="#r" x="595" y="291"/>
<use href="#g" x="534" y="279"/>
<use href="#b" x="644" y="307"/>
<use href="#b" x="580" y="275"/>
<use href="#b" x="759" y="307"/>
<use href="#b" x="500" y="280"/>
<use href="#b" x="576" y="290"/>
<use href="#g" x="564" y="252"/>
<use href="#b" x="732" y="309"/>
<use href="#b" x="455" y="298"/>
<use href="#b" x="525" y="273"/>
<use href="#b" x="515" y="281"/>
<use href="#r" x="923" y="281"/>
<use href="#b" x="686" y="315"/>
<use href="#r" x="609" y="296"/>
<use href="#g" x="488" y="315"/>
<use href="#b" x="534" y="308"/>
<use href="#b" x="529" y="305"/>
<use href="#b" x="716" y="263"/>
<use href="#b" x="461" y="256"/>
<use href="#b" x="642" y="301"/>
<use href="#b" x="528" y="291"/>
<use href="#b" x="369" y="290"/>
<use href="#g" x="197" y="272"/>
<use href="#b" x="569" y="314"/>
<use href="#b" x="444" y="262"/>
<use href="#b" x="709" y="324"/>
<use href="#g" x="398" y="325"/>
<use href="#g" x="526" y="288"/>
<use href="#b" x="742" y="326"/>
<use href="#r" x="643" y="284"/>
<use href="#r" x="687" y="324"/>
<use href="#b" x="308" y="296"/>
<use href="#b" x="434" y="303"/>
<use href="#r" x="606" y="299"/>
<use href="#b" x="473" y="293"/>
<use href="#r" x="657" y="259"/>
<use href="#b" x="800" y="330"/>
<use href="#b" x="476" y="292"/>
<use href="#b" x="507" y="404"/>
<use href="#b" x="541" y="260"/>
<use href="#b" x="466" y="273"/>
<use href="#b" x="591" y="270"/>
<use href="#r" x="642" y="294"/>
<use href="#b" x="435" y="260"/>
<use href="#b" x="420" y="303"/>
<use href="#g" x="473" y="311"/>
<use href="#b" x="526" y="316"/>
<use href="#b" x="622" y="272"/>
<use href="#b" x="417" y="278"/>
<use href="#b" x="693" y="234"/>
<use href="#b" x="555" y="271"/>
<use href="#b" x="497" y="296"/>
<use href="#b" x="752" y="324"/>
<use href="#b" x="595" y="295"/>
<use href="#r" x="613" y="292"/>
<use href="#b" x="595" y="276"/>
<use href="#b" x="375" y="319"/>
<use href="#b" x="548" y="302"/>
<use href="#b" x="542" y="301"/>
<use href="#b" x="784" y="291"/>
<use href="#b" x="548" y="282"/>
<use href="#b" x="538" y="294"/>
<use href="#b" x="276" y="320"/>
<use href="#b" x="561" y="282"/>
<use href="#b" x="662" y="305"/>
<use href="#g" x="564" y="262"/>
<use href="#b" x="313" y="311"/>
<use href="#b" x="679" y="300"/>
<use href="#b" x="375" y="588"/>
<use href="#b" x="684" y="282"/>
<use href="#r" x="623" y="305"/>
<use href="#b" x="712" y="303"/>
<use href="#b" x="554" y="279"/>
<use href="#b" x="507" y="331"/>
<use href="#b" x="364" y="307"/>
<use href="#b" x="512" y="296"/>
<use href="#r" x="641" y="288"/>
<use href="#b" x="446" y="286"/>
<use href="#b" x="543" y="283"/>
<use href="#b" x="697" y="288"/>
<use href="#b" x="659" y="286"/>
<use href="#b" x="510" y="304"/>
<use href="#r" x="687" y="268"/>
<use href="#g" x="518" y="334"/>
<use href="#b" x="532" y="309"/>
<use href="#b" x="593" y="272"/>
<use href="#b" x="454" y="301"/>
<use href="#r" x="677" y="263"/>
<use href="#b" x="514" y="252"/>
<use href="#b" x="716" y="300"/>
<use href="#r" x="614" y="315"/>
<use href="#g" x="508" y="303"/>
<use href="#b" x="523" y="301"/>
<use href="#b" x="616" y="303"/>
<use href="#b" x="434" y="298"/>
<use href="#b" x="743" y="276"/>
<use href="#b" x="588" y="366"/>
<use href="#b" x="651" y="310"/>
<use href="#b" x="549" y="290"/>
<use href="#g" x="518" y="263"/>
<use href="#b" x="449" y="270"/>
<use href="#g" x="502" y="276"/>
<use href="#b" x="657" y="296"/>
<use href="#b" x="462" y="260"/>
<use href="#b" x="513" y="280"/>
<use href="#b" x="524" y="277"/>
<use href="#b" x="650" y="304"/>
<use href="#b" x="601" y="282"/>
<use href="#b" x="493" y="336"/>
<use href="#b" x="623" y="336"/>
<use href="#g" x="445" y="264"/>
<use href="#b" x="655" y="271"/>
<use href="#b" x="550" y="313"/>
<use href="#b" x="562" y="288"/>
<use href="#b" x="541" y="291"/>
<use href="#b" x="620" y="287"/>
<use href="#g" x="536" y="290"/>
<use href="#b" x="538" y="299"/>
<use href="#b" x="434" y="307"/>
<use href="#b" x="451" y="341"/>
<use href="#b" x="506" y="273"/>
<use href="#b" x="496" y="312"/>
<use href="#b" x="391" y="273"/>
<use href="#r" x="665" y="256"/>
<use href="#b" x="792" y="264"/>
<use href="#b" x="485" y="287"/>
<use href="#b" x="546" y="310"/>
<use href="#b" x="623" y="249"/>
<use href="#b" x="826" y="310"/>
<use href="#b" x="430" y="285"/>
<use href="#b" x="469" y="301"/>
<use href="#b" x="668" y="315"/>
<use href="#b" x="497" y="301"/>
<use href="#b" x="550" y="302"/>
<use href="#g" x="432" y="321"/>
<use href="#b" x="432" y="347"/>
<use href="#b" x="512" y="302"/>
<use href="#b" x="532" y="310"/>
<use href="#b" x="601" y="274"/>
<use href="#b" x="503" y="292"/>
<use href="#b" x="618" y="282"/>
<use href="#b" x="731" y="297"/>
<use href="#g" x="528" y="264"/>
<use href="#b" x="496" y="304"/>
<use href="#r" x="666" y="301"/>
<use href="#b" x="273" y="376"/>
<use href="#b" x="485" y="314"/>
<use href="#b" x="698" y="280"/>
<use href="#b" x="488" y="281"/>
<use href="#b" x="629" y="286"/>
<use href="#b" x="487" y="292"/>
<use href="#b" x="612" y="252"/>
<use href="#r" x="697" y="256"/>
<use href="#r" x="589" y="340"/>
<use href="#r" x="720" y="316"/>
<use href="#b" x="553" y="289"/>
<use href="#b" x="423" y="323"/>
<use href="#b" x="604" y="284"/>
<use href="#b" x="688" y="300"/>
<use href="#b" x="611" y="272"/>
<use href="#b" x="434" y="279"/>
<use href="#b" x="555" y="275"/>
<use href="#r" x="582" y="302"/>
<use href="#b" x="590" y="299"/>
<use href="#b" x="666" y="292"/>
<use href="#b" x="496" y="286"/>
<use href="#g" x="482" y="254"/>
<use href="#b" x="587" y="296"/>
<use href="#b" x="588" y="299"/>
<use href="#b" x="422" y="280"/>
<use href="#b" x="581" y="299"/>
<use href="#b" x="613" y="272"/>
<use href="#b" x="536" y="306"/>
<use href="#g" x="425" y="276"/>
<use href="#b" x="188" y="287"/>
<use href="#b" x="399" y="262"/>
<use href="#b" x="553" y="301"/>
<use href="#b" x="559" y="313"/>
<use href="#g" x="489" y="328"/>
<use href="#b" x="531" y="333"/>
<use href="#b" x="528" y="302"/>
<use href="#b" x="595" y="310"/>
<use href="#b" x="639" y="311"/>
<use href="#r" x="598" y="289"/>
<use href="#r" x="603" y="291"/>
<use href="#g" x="354" y="276"/>
<use href="#b" x="496" y="282"/>
<use href="#b" x="549" y="301"/>
<use href="#r" x="597" y="314"/>
<use href="#b" x="652" y="328"/>
<use href="#b" x="617" y="256"/>
<use href="#r" x="630" y="283"/>
<use href="#b" x="517" y="298"/>
<use href="#r" x="667" y="339"/>
<use href="#b" x="483" y="280"/>
<use href="#r" x="649" y="259"/>
<use href="#r" x="656" y="295"/>
<use href="#b" x="423" y="295"/>
<use href="#b" x="736" y="267"/>
<use href="#b" x="495" y="300"/>
<use href="#b" x="515" y="298"/>
<use href="#b" x="696" y="390"/>
<use href="#b" x="662" y="285"/>
<use href="#g" x="547" y="289"/>
<use href="#g" x="526" y="209"/>
<use href="#b" x="600" y="308"/>
<use href="#b" x="502" y="304"/>
<use href="#b" x="696" y="314"/>
<use href="#b" x="418" y="302"/>
<use href="#b" x="456" y="286"/>
<use href="#b" x="553" y="256"/>
<use href="#b" x="538" y="296"/>
<use href="#b" x="414" y="303"/>
<use href="#b" x="662" y="348"/>
<use href="#b" x="505" y="278"/>
<use href="#b" x="548" y="274"/>
<use href="#b" x="685" y="277"/>
<use href="#b" x="552" y="268"/>
<use href="#b" x="499" y="284"/>
<use href="#b" x="712" y="292"/>
<use href="#b" x="450" y="294"/>
<use href="#b" x="479" y="312"/>
<use href="#g" x="472" y="228"/>
<use href="#g" x="535" y="244"/>
<use href="#b" x="636" y="289"/>
<use href="#b" x="656" y="300"/>
<use href="#b" x="770" y="289"/>
<use href="#b" x="508" y="283"/>
<use href="#b" x="642" y="289"/>
<use href="#b" x="543" y="301"/>
<use href="#b" x="687" y="286"/>
<use href="#g" x="486" y="302"/>
<use href="#b" x="409" y="303"/>
<use href="#r" x="610" y="310"/>
<use href="#b" x="498" y="262"/>
<use href="#b" x="570" y="315"/>
<use href="#b" x="668" y="271"/>
<use href="#b" x="510" y="296"/>
<use href="#b" x="528" y="295"/>
<use href="#b" x="572" y="274"/>
<use href="#b" x="522" y="301"/>
<use href="#b" x="427" y="293"/>
<use href="#b" x="611" y="299"/>
<use href="#b" x="433" y="456"/>
<use href="#g" x="384" y="289"/>
<use href="#b" x="459" y="309"/>
<use href="#g" x="420" y="268"/>
<use href="#b" x="618" y="315"/>
<use href="#b" x="771" y="297"/>
<use href="#b" x="537" y="324"/>
<use href="#b" x="542" y="270"/>
<use href="#b" x="532" y="297"/>
<use href="#b" x="373" y="268"/>
<use href="#g" x="349" y="319"/>
<use href="#b" x="523" y="268"/>
<use href="#b" x="611" y="260"/>
<use href="#r" x="604" y="339"/>
<use href="#b" x="693" y="249"/>
<use href="#b" x="640" y="306"/>
<use href="#b" x="585" y="273"/>
<use href="#b" x="787" y="380"/>
<use href="#b" x="444" y="286"/>
<use href="#b" x="630" y="296"/>
<use href="#g" x="526" y="268"/>
<use href="#b" x="625" y="287"/>
<use href="#b" x="534" y="295"/>
<use href="#b" x="448" y="285"/>
<use href="#b" x="477" y="310"/>
<use href="#b" x="550" y="306"/>
<use href="#b" x="566" y="281"/>
<use href="#r" x="636" y="309"/>
<use href="#b" x="607" y="302"/>
<use href="#b" x="618" y="314"/>
<use href="#g" x="500" y="309"/>
<use href="#b" x="530" y="321"/>
<use href="#b" x="542" y="375"/>
<use href="#g" x="440" y="266"/>
<use href="#r" x="583" y="284"/>
<use href="#g" x="406" y="318"/>
<use href="#b" x="702" y="268"/>
<use href="#b" x="564" y="303"/>
<use href="#b" x="562" y="315"/>
<use href="#b" x="491" y="97"/>
<use href="#b" x="479" y="322"/>
<use href="#r" x="812" y="314"/>
<use href="#b" x="702" y="296"/>
<use href="#b" x="387" y="310"/>
<use href="#b" x="667" y="296"/>
<use href="#b" x="516" y="314"/>
<use href="#b" x="576" y="277"/>
<use href="#g" x="439" y="372"/>
<use href="#b" x="760" y="312"/>
<use href="#b" x="430" y="358"/>
<use href="#b" x="605" y="314"/>
<use href="#b" x="670" y="281"/>
<use href="#b" x="489" y="290"/>
<use href="#b" x="518" y="309"/>
<use href="#r" x="584" y="279"/>
<use href="#b" x="445" y="316"/>
<use href="#b" x="558" y="280"/>
<use href="#b" x="542" y="278"/>
<use href="#b" x="486" y="329"/>
<use href="#b" x="839" y="289"/>
<use href="#r" x="636" y="259"/>
<use href="#r" x="629" y="252"/>
<use href="#b" x="681" y="279"/>
<use href="#b" x="507" y="290"/>
<use href="#b" x="525" y="281"/>
<use href="#r" x="746" y="285"/>
<use href="#b" x="548" y="291"/>
<use href="#r" x="583" y="298"/>
<use href="#b" x="585" y="214"/>
<use href="#b" x="518" y="302"/>
<use href="#b" x="578" y="284"/>
<use href="#g" x="433" y="284"/>
<use href="#b" x="546" y="278"/>
<use href="#b" x="764" y="302"/>
<use href="#g" x="222" y="280"/>
<use href="#b" x="482" y="244"/>
<use href="#r" x="671" y="289"/>
<use href="#g" x="384" y="301"/>
<use href="#r" x="716" y="289"/>
<use href="#b" x="742" y="336"/>
<use href="#b" x="603" y="301"/>
<use href="#b" x="487" y="291"/>
<use href="#r" x="643" y="278"/>
<use href="#b" x="480" y="288"/>
<use href="#b" x="602" y="298"/>
<use href="#b" x="540" y="270"/>
<use href="#b" x="659" y="276"/>
<use href="#b" x="550" y="315"/>
<use href="#b" x="608" y="294"/>
<use href="#b" x="596" y="270"/>
<use href="#b" x="650" y="271"/>
<use href="#b" x="397" y="304"/>
<use href="#b" x="560" y="286"/>
<use href="#b" x="581" y="289"/>
<use href="#b" x="682" y="344"/>
<use href="#r" x="585" y="266"/>
<use href="#b" x="680" y="288"/>
<use href="#b" x="499" y="330"/>
<use href="#b" x="400" y="282"/>
<use href="#b" x="484" y="292"/>
<use href="#b" x="452" y="319"/>
<use href="#r" x="590" y="304"/>
<use href="#b" x="357" y="334"/>
<use href="#b" x="363" y="309"/>
<use href="#g" x="539" y="278"/>
<use href="#b" x="562" y="274"/>
<use href="#b" x="455" y="283"/>
<use href="#g" x="530" y="287"/>
<use href="#b" x="432" y="255"/>
<use href="#b" x="654" y="306"/>
<use href="#b" x="676" y="284"/>
<use href="#b" x="712" y="293"/>
<use href="#b" x="685" y="306"/>
<use href="#b" x="542" y="269"/>
<use href="#r" x="621" y="292"/>
<use href="#b" x="415" y="330"/>
<use href="#g" x="366" y="334"/>
<use href="#b" x="612" y="298"/>
<use href="#b" x="470" y="306"/>
<use href="#b" x="698" y="407"/>
<use href="#b" x="513" y="381"/>
<use href="#g" x="552" y="286"/>
<use href="#b" x="608" y="284"/>
<use href="#b" x="608" y="288"/>
<use href="#b" x="532" y="305"/>
<use href="#g" x="459" y="254"/>
<use href="#b" x="594" y="263"/>
<use href="#b" x="721" y="279"/>
<use href="#b" x="591" y="281"/>
<use href="#g" x="464" y="274"/>
<use href="#g" x="572" y="351"/>
<use href="#b" x="662" y="238"/>
<use href="#b" x="518" y="288"/>
<use href="#r" x="645" y="295"/>
<use href="#b" x="558" y="283"/>
<use href="#b" x="565" y="289"/>
<use href="#g" x="563" y="293"/>
<use href="#b" x="542" y="279"/>
<use href="#b" x="452" y="282"/>
<use href="#b" x="556" y="280"/>
<use href="#b" x="585" y="356"/>
<use href="#b" x="500" y="305"/>
<use href="#b" x="508" y="290"/>
<use href="#b" x="451" y="305"/>
<use href="#b" x="615" y="300"/>
<use href="#r" x="693" y="262"/>
<use href="#b" x="533" y="328"/>
<use href="#b" x="411" y="280"/>
<use href="#b" x="620" y="313"/>
<use href="#b" x="725" y="338"/>
<use href="#b" x="605" y="314"/>
<use href="#r" x="744" y="293"/>
<use href="#r" x="668" y="293"/>
<use href="#b" x="578" y="299"/>
<use href="#b" x="544" y="301"/>
<use href="#b" x="532" y="308"/>
<use href="#b" x="486" y="312"/>
<use href="#b" x="458" y="306"/>
<use href="#g" x="470" y="288"/>
<use href="#r" x="652" y="278"/>
<use href="#b" x="552" y="287"/>
<use href="#b" x="511" y="298"/>
<use href="#b" x="598" y="323"/>
<use href="#b" x="562" y="282"/>
<use href="#b" x="389" y="338"/>
<use href="#b" x="561" y="312"/>
<use href="#b" x="429" y="367"/>
<use href="#b" x="684" y="294"/>
<use href="#g" x="445" y="277"/>
<use href="#b" x="551" y="306"/>
<use href="#b" x="457" y="314"/>
<use href="#b" x="411" y="304"/>
<use href="#b" x="548" y="292"/>
<use href="#b" x="508" y="289"/>
<use href="#r" x="646" y="298"/>
<use href="#g" x="558" y="298"/>
<use href="#b" x="573" y="304"/>
<use href="#b" x="653" y="302"/>
<use href="#b" x="510" y="287"/>
<use href="#b" x="631" y="270"/>
<use href="#b" x="542" y="321"/>
<use href="#r" x="672" y="320"/>
<use href="#r" x="610" y="308"/>
<use href="#b" x="500" y="298"/>
<use href="#b" x="604" y="286"/>
<use href="#b" x="808" y="268"/>
<use href="#r" x="610" y="295"/>
<use href="#r" x="963" y="284"/>
<use href="#g" x="367" y="287"/>
<use href="#b" x="461" y="327"/>
<use href="#r" x="598" y="285"/>
<use href="#b" x="416" y="353"/>
<use href="#b" x="558" y="304"/>
<use href="#b" x="642" y="264"/>
<use href="#b" x="579" y="327"/>
<use href="#b" x="379" y="283"/>
<use href="#b" x="612" y="310"/>
<use href="#b" x="574" y="303"/>
<use href="#b" x="364" y="341"/>
<use href="#b" x="514" y="260"/>
<use href="#b" x="782" y="305"/>
<use href="#b" x="592" y="449"/>
<use href="#b" x="536" y="267"/>
<use href="#b" x="542" y="350"/>
<use href="#b" x="595" y="291"/>
<use href="#b" x="608" y="288"/>
<use href="#b" x="642" y="336"/>
<use href="#r" x="703" y="254"/>
<use href="#b" x="649" y="287"/>
<use href="#b" x="643" y="244"/>
<use href="#b" x="322" y="328"/>
<use href="#r" x="618" y="287"/>
<use href="#b" x="757" y="290"/>
<use href="#g" x="489" y="407"/>
<use href="#b" x="605" y="304"/>
<use href="#b" x="583" y="366"/>
<use href="#b" x="879" y="276"/>
<use href="#b" x="678" y="288"/>
<use href="#g" x="428" y="310"/>
<use href="#b" x="443" y="303"/>
</g>
<path d="M319.6,289.2 L331.7,281.7 L345.0,277.5 L360.0,275.0 L381.4,273.5 L400.0,270.4 L413.6,266.4 L440.4,258.3 L458.2,251.2 L474.3,244.9 L486.7,243.7 L514.0,244.5 L542.5,243.6 L560.4,241.8 L578.0,240.0 L591.6,238.7 L600.0,237.8 L626.8,239.1 L646.4,241.8 L667.0,244.5 L682.5,245.6 L693.8,246.3 L702.7,248.0 L711.6,253.0 L720.0,258.0 L723.8,260.0 L747.0,263.5 L772.0,270.8 L793.0,276.0 L819.0,278.1 L835.0,285.0 L833.5,289.0 L824.0,291.1 L803.0,295.8 L782.5,305.2 L761.7,313.5 L740.8,321.9 L720.0,324.0 L698.2,324.8 L680.4,329.3 L662.5,334.6 L644.6,338.2 L626.8,341.3 L600.0,341.3 L578.0,339.1 L514.0,338.7 L486.0,338.2 L480.0,336.4 L467.0,335.5 L449.3,332.0 L437.7,330.2 L401.0,330.2 L386.8,328.4 L366.7,323.3 L346.7,318.3 L331.7,311.0 L338.3,304.0 L336.7,298.3 L333.3,295.8 L325.0,295.0 L319.6,289.2 Z" fill="none" stroke="#000" stroke-width="2" stroke-linejoin="round" shape-rendering="crispEdges"/>
<path d="M372.5,289.2 L384.1,282.0 L400.2,279.8 L422.5,277.1 L440.4,273.5 L458.2,266.4 L474.3,261.9 L480.0,261.4 L513.9,257.4 L533.6,254.3 L560.4,252.0 L600.0,252.0 L617.9,254.3 L635.7,255.6 L653.6,258.8 L671.4,261.9 L689.3,263.7 L707.1,266.8 L720.0,268.1 L740.8,274.0 L761.7,280.2 L769.0,281.2 L777.0,289.0 L775.2,289.6 L761.7,297.9 L740.8,308.3 L720.0,313.5 L698.2,316.8 L680.4,320.4 L662.5,323.5 L631.2,323.5 L617.9,325.7 L600.0,329.3 L569.0,330.2 L542.5,332.0 L504.0,332.9 L493.4,332.0 L480.0,329.3 L467.0,327.5 L449.3,324.0 L422.5,319.5 L399.3,318.6 L395.8,317.5 L383.3,312.5 L379.6,309.2 L379.2,297.5 L372.5,289.2 Z" fill="none" stroke="#000" stroke-width="2" stroke-linejoin="round" shape-rendering="crispEdges"/>
<path d="M405.0,294.0 L410.0,288.7 L422.5,285.1 L440.0,279.0 L458.0,273.5 L480.0,270.0 L505.0,264.6 L540.0,262.0 L560.0,261.5 L578.0,261.0 L600.0,261.4 L626.8,261.9 L644.6,263.7 L662.5,266.8 L680.4,270.0 L698.2,273.5 L716.0,277.0 L720.0,278.0 L740.8,282.3 L756.0,290.0 L751.0,295.8 L740.8,302.0 L720.0,307.3 L698.2,309.5 L680.4,312.3 L662.5,315.9 L635.7,318.6 L617.9,320.4 L600.0,323.0 L578.0,324.8 L542.5,325.7 L504.0,326.6 L480.0,322.1 L458.2,319.5 L440.4,315.9 L422.5,311.4 L406.4,306.0 L405.0,294.0 Z" fill="none" stroke="#000" stroke-width="2" stroke-linejoin="round" shape-rendering="crispEdges"/>
<path d="M425.0,295.0 L429.6,289.6 L440.4,283.3 L458.2,278.0 L480.0,273.5 L514.0,267.2 L540.0,265.5 L578.0,265.0 L600.0,264.6 L626.8,264.6 L644.6,267.2 L662.5,269.5 L680.4,273.5 L693.8,277.0 L707.0,281.5 L720.0,284.2 L730.0,288.0 L737.0,291.0 L730.4,296.9 L720.0,300.0 L702.7,302.0 L689.3,305.2 L671.4,309.6 L653.6,315.0 L640.0,316.0 L600.0,319.5 L569.0,321.2 L533.6,322.1 L504.0,320.4 L480.0,316.8 L467.0,315.0 L449.3,310.5 L427.0,305.2 L425.0,295.0 Z" fill="none" stroke="#000" stroke-width="2" stroke-linejoin="round" shape-rendering="crispEdges"/>
<path d="M442.0,295.0 L445.7,289.6 L458.2,282.4 L480.0,277.0 L540.0,269.0 L578.0,268.8 L600.0,268.6 L653.6,270.8 L671.4,274.4 L684.8,278.9 L693.8,282.4 L698.0,292.0 L704.0,296.0 L698.0,299.8 L690.0,302.0 L660.0,310.0 L640.0,313.0 L600.0,316.0 L578.0,317.2 L540.0,318.0 L480.0,312.3 L458.2,307.9 L444.8,304.3 L442.0,295.0 Z" fill="none" stroke="#000" stroke-width="2" stroke-linejoin="round" shape-rendering="crispEdges"/>
<path d="M455.0,295.0 L460.0,289.6 L480.0,282.4 L540.0,272.5 L560.0,272.7 L578.0,272.2 L600.0,271.7 L626.8,272.6 L653.6,275.3 L671.4,278.9 L678.6,281.5 L680.4,286.0 L685.0,296.0 L680.0,302.0 L660.0,308.0 L640.0,311.0 L600.0,313.0 L578.0,314.2 L560.0,314.5 L540.0,315.0 L480.0,308.8 L460.9,304.3 L455.0,295.0 Z" fill="none" stroke="#000" stroke-width="2" stroke-linejoin="round" shape-rendering="crispEdges"/>
<path d="M467.0,295.0 L480.0,286.9 L510.0,279.0 L540.0,276.0 L560.0,275.9 L578.0,275.0 L600.0,274.4 L626.8,275.3 L649.0,278.0 L662.5,280.6 L667.0,283.3 L667.9,287.8 L671.0,296.0 L660.0,305.0 L640.0,308.0 L600.0,310.5 L578.0,312.0 L560.0,312.5 L540.0,312.5 L480.0,304.3 L476.0,303.4 L467.0,295.0 Z" fill="none" stroke="#000" stroke-width="2" stroke-linejoin="round" shape-rendering="crispEdges"/>
<path d="M496.0,295.0 L515.0,285.0 L540.0,279.5 L560.0,278.8 L578.0,278.5 L600.0,278.9 L635.7,281.5 L646.4,283.3 L653.6,287.8 L660.0,296.0 L640.0,305.0 L600.0,308.0 L578.0,309.0 L560.0,309.5 L540.0,309.5 L505.0,303.0 L496.0,295.0 Z" fill="none" stroke="#000" stroke-width="2" stroke-linejoin="round" shape-rendering="crispEdges"/>
<path d="M511.0,295.0 L528.0,287.0 L540.0,283.0 L560.0,282.4 L578.0,283.0 L600.0,283.8 L617.9,285.5 L635.7,287.8 L638.4,288.7 L646.0,296.0 L630.0,302.0 L600.0,305.5 L578.0,306.0 L560.0,306.5 L540.0,306.5 L520.0,302.0 L511.0,295.0 Z" fill="none" stroke="#000" stroke-width="2" stroke-linejoin="round" shape-rendering="crispEdges"/>
<path d="M530.0,294.0 L545.0,287.0 L560.0,285.7 L578.0,287.0 L600.0,289.6 L620.0,292.0 L628.0,297.0 L615.0,301.0 L600.0,303.0 L578.0,304.0 L560.0,304.5 L545.0,303.5 L530.0,294.0 Z" fill="none" stroke="#000" stroke-width="2" stroke-linejoin="round" shape-rendering="crispEdges"/>
<path d="M547.0,294.0 L555.0,289.0 L560.0,288.4 L578.0,288.5 L590.0,290.0 L605.0,297.0 L595.0,299.5 L578.0,300.5 L555.0,300.5 L547.0,294.0 Z" fill="none" stroke="#000" stroke-width="2" stroke-linejoin="round" shape-rendering="crispEdges"/>
<line x1="578" y1="295.2" x2="1070" y2="266.9" stroke="#F8766D" stroke-width="5" shape-rendering="crispEdges"/>
<line x1="137" y1="305.4" x2="578" y2="297.3" stroke="#00BA38" stroke-width="5" shape-rendering="crispEdges"/>
<line x1="144" y1="316.5" x2="951" y2="276.4" stroke="#619CFF" stroke-width="5" shape-rendering="crispEdges"/>
<line x1="90" y1="291" x2="1116" y2="291" stroke="#f00" stroke-width="2" stroke-dasharray="8 8"/>
<line x1="578" y1="836" x2="578" y2="62" stroke="#f00" stroke-width="2" stroke-dasharray="8 8"/>
</g>
<g font-size="30">
<text transform="translate(0,133) scale(1,1.045)" x="137.1" y="0" fill="#F8766D" textLength="240.6" lengthAdjust="spacing"><tspan font-style="italic">R</tspan> = 0.1, <tspan font-style="italic">p</tspan> = 0.026</text>
<text transform="translate(0,173.8) scale(1,1.045)" x="137.1" y="0" fill="#00BA38" textLength="256.9" lengthAdjust="spacing"><tspan font-style="italic">R</tspan> = 0.11, <tspan font-style="italic">p</tspan> = 0.034</text>
<text transform="translate(0,214) scale(1,1.045)" x="137.1" y="0" fill="#619CFF" textLength="253.5" lengthAdjust="spacing"><tspan font-style="italic">R</tspan> = 0.14, <tspan font-style="italic">p</tspan> &lt; 0.001</text>
</g>
<line x1="90" y1="62" x2="90" y2="837" stroke="#000" stroke-width="2"/>
<line x1="89" y1="836" x2="1116" y2="836" stroke="#000" stroke-width="2"/>
<g font-size="23.5" fill="#4D4D4D" text-anchor="end">
<line x1="83" y1="91.0" x2="90" y2="91.0" stroke="#333" stroke-width="2"/>
<text x="77" y="100.2">2</text>
<line x1="83" y1="291.0" x2="90" y2="291.0" stroke="#333" stroke-width="2"/>
<text x="77" y="300.2">0</text>
<line x1="83" y1="491.0" x2="90" y2="491.0" stroke="#333" stroke-width="2"/>
<text x="77" y="500.2">-2</text>
<line x1="83" y1="691.0" x2="90" y2="691.0" stroke="#333" stroke-width="2"/>
<text x="77" y="700.2">-4</text>
</g>
<g font-size="23.5" fill="#4D4D4D" text-anchor="middle">
<line x1="250.2" y1="836" x2="250.2" y2="843" stroke="#333" stroke-width="2"/>
<text x="250.2" y="868">-2</text>
<line x1="414.0" y1="836" x2="414.0" y2="843" stroke="#333" stroke-width="2"/>
<text x="414.0" y="868">-1</text>
<line x1="577.8" y1="836" x2="577.8" y2="843" stroke="#333" stroke-width="2"/>
<text x="577.8" y="868">0</text>
<line x1="741.6" y1="836" x2="741.6" y2="843" stroke="#333" stroke-width="2"/>
<text x="741.6" y="868">1</text>
<line x1="905.4" y1="836" x2="905.4" y2="843" stroke="#333" stroke-width="2"/>
<text x="905.4" y="868">2</text>
<line x1="1069.2" y1="836" x2="1069.2" y2="843" stroke="#333" stroke-width="2"/>
<text x="1069.2" y="868">3</text>
</g>
<text x="458.1" y="902" font-size="29.5" textLength="289.8" lengthAdjust="spacing">H3K27ac_144R logFC</text>
<text transform="translate(37.2,0) rotate(-90)" x="-595.4" y="0" font-size="29.5" textLength="293.9" lengthAdjust="spacing">RNA_LFC_144R 144R</text>
<text x="911.3" y="941" font-size="23.6" textLength="204.1" lengthAdjust="spacing">20kb&gt;x&gt; 2kb of TSS</text>
<text x="1160" y="384.7" font-size="29.5" textLength="117" lengthAdjust="spacing">set_case</text>
<line x1="1165" y1="424.4" x2="1202" y2="424.4" stroke="#F8766D" stroke-width="5"/>
<text x="1183" y="436.4" font-size="30" fill="#F8766D" text-anchor="middle">a</text>
<text x="1220.7" y="433.8" font-size="23.6" textLength="87.4" lengthAdjust="spacing">Set_1_A</text>
<line x1="1165" y1="470.3" x2="1202" y2="470.3" stroke="#00BA38" stroke-width="5"/>
<text x="1183" y="482.3" font-size="30" fill="#00BA38" text-anchor="middle">a</text>
<text x="1220.9" y="479.7" font-size="23.6" textLength="88.0" lengthAdjust="spacing">Set_1_B</text>
<line x1="1165" y1="516.3" x2="1202" y2="516.3" stroke="#619CFF" stroke-width="5"/>
<text x="1183" y="528.3" font-size="30" fill="#619CFF" text-anchor="middle">a</text>
<text x="1220.9" y="525.7" font-size="23.6" textLength="89.8" lengthAdjust="spacing">Set_1_C</text>
</svg>
</body></html>
